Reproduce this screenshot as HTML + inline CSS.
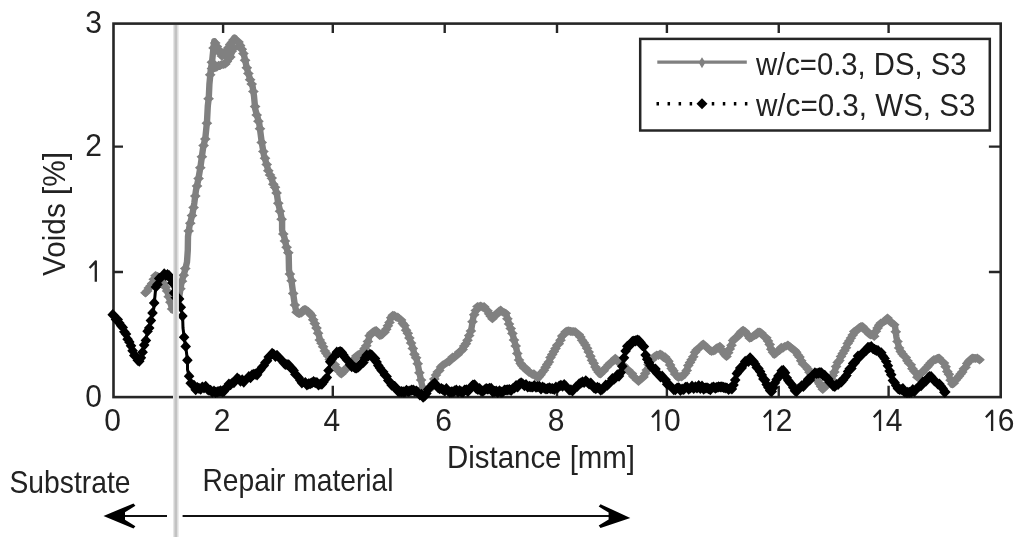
<!DOCTYPE html>
<html><head><meta charset="utf-8"><title>Voids vs distance</title>
<style>html,body{margin:0;padding:0;background:#fff;overflow:hidden}svg{display:block;will-change:transform;filter:blur(0.45px)}text{font-family:"Liberation Sans",sans-serif}</style>
</head><body>
<svg width="1024" height="537" viewBox="0 0 1024 537">
<rect x="0" y="0" width="1024" height="537" fill="#fff"/>
<rect x="113.5" y="23.6" width="887.2" height="373.5" fill="none" stroke="#262626" stroke-width="2.6"/>
<path d="M223.1,397.1V385.8M223.1,23.6V32.900000000000006M332.8,397.1V385.8M332.8,23.6V32.900000000000006M444.7,397.1V385.8M444.7,23.6V32.900000000000006M557.0,397.1V385.8M557.0,23.6V32.900000000000006M666.9,397.1V385.8M666.9,23.6V32.900000000000006M778.75,397.1V385.8M778.75,23.6V32.900000000000006M888.6,397.1V385.8M888.6,23.6V32.900000000000006M113.5,272.0H123.0M1000.7,272.0H988.9000000000001M113.5,146.65H123.0M1000.7,146.65H988.9000000000001" stroke="#262626" stroke-width="2.4" fill="none"/>
<polyline points="145.5,293.3 152.4,283.0 156.3,275.0 164.7,284.6 168.0,293.6 170.3,302.5 172.5,310.3 175.5,306.0 179.2,296.9 181.5,282.4 184.8,271.2 187.0,262.0 187.8,250.0 188.0,236.5 189.6,225.4 192.7,212.7 194.3,203.2 195.9,190.6 198.3,179.5 200.6,166.0 203.0,148.5 205.4,137.5 207.0,121.6 207.8,105.8 208.8,97.7 209.4,84.3 210.8,69.6 212.1,61.5 213.5,47.5 214.3,41.2 217.0,46.5 219.5,52.0 222.0,56.5 226.0,51.0 230.0,44.5 234.5,37.6 240.8,45.5 243.5,53.0 246.3,65.5 248.4,74.0 252.6,86.5 254.0,96.0 255.2,109.0 259.2,123.2 261.5,140.6 263.9,154.9 267.9,169.1 270.3,175.0 273.4,184.2 276.6,192.2 278.2,203.2 280.5,212.7 282.1,220.6 282.1,230.1 284.5,238.0 286.9,249.1 288.7,255.0 289.0,269.9 291.4,280.3 293.2,293.7 294.7,304.2 296.2,311.6 299.2,314.6 305.1,308.6 311.1,314.6 315.5,325.0 318.5,334.0 320.0,339.9 326.0,353.3 333.4,363.7 340.9,374.2 346.8,368.2 355.0,358.0 362.7,352.0 367.5,343.4 369.9,334.9 375.4,330.1 380.8,336.1 386.9,328.9 390.5,319.2 393.5,315.0 401.4,320.4 405.0,326.5 408.6,336.1 412.3,345.8 414.7,355.5 416.8,359.8 419.8,374.7 422.0,385.1 423.5,390.0 427.0,391.0 431.0,387.0 434.5,379.0 437.5,372.5 442.0,366.0 451.0,359.5 459.0,352.5 464.0,347.0 467.0,341.0 471.2,330.0 473.4,316.8 477.9,306.4 482.4,306.5 486.5,309.0 492.5,318.0 500.5,310.5 506.2,313.8 509.2,324.3 513.6,337.7 516.6,349.6 519.6,363.0 527.0,370.2 536.0,376.2 538.9,377.7 544.9,368.7 555.5,349.4 561.0,338.5 566.0,331.5 570.2,331.0 575.0,332.0 580.6,337.0 588.1,350.9 594.1,364.3 600.0,374.7 607.5,365.8 615.4,359.1 625.3,367.2 630.0,372.4 638.4,380.8 644.5,376.0 650.5,360.3 659.0,354.2 667.5,359.1 672.3,368.7 677.2,377.2 683.4,376.0 689.4,364.1 695.3,352.1 702.8,343.9 711.7,352.1 719.2,346.2 726.6,356.6 732.6,341.7 743.0,329.8 750.4,338.7 759.4,331.3 766.8,338.7 771.3,349.2 774.3,355.1 781.7,347.7 788.3,345.0 796.8,352.3 802.3,362.3 809.1,371.3 816.9,380.2 822.5,389.2 831.4,379.1 838.1,362.3 847.0,345.6 854.7,331.3 861.4,326.1 868.1,332.8 874.1,335.8 878.5,325.3 887.5,318.6 894.9,325.3 896.4,337.2 899.4,349.2 906.8,359.6 912.8,368.5 917.8,377.0 926.1,367.8 932.6,361.3 938.4,357.4 944.3,363.9 948.2,373.0 952.1,384.7 958.6,376.9 963.9,369.1 969.1,361.3 974.3,357.4 979.5,360.0" fill="none" stroke="#808080" stroke-width="6.4" stroke-linejoin="round" stroke-linecap="round"/>
<polyline points="212.0,68.0 219.0,66.0 226.0,63.5 230.0,57.0 233.5,48.0" fill="none" stroke="#808080" stroke-width="6.4" stroke-linejoin="round" stroke-linecap="round"/>
<path d="M145.5,288.2l5.4,4.6l-5.4,4.6l-5.4,-4.6zM147.2,286.3l5.4,4.6l-5.4,4.6l-5.4,-4.6zM148.8,283.5l5.4,4.6l-5.4,4.6l-5.4,-4.6zM150.5,281.5l5.4,4.6l-5.4,4.6l-5.4,-4.6zM152.1,279.0l5.4,4.6l-5.4,4.6l-5.4,-4.6zM153.8,274.7l5.4,4.6l-5.4,4.6l-5.4,-4.6zM155.5,271.1l5.4,4.6l-5.4,4.6l-5.4,-4.6zM157.1,272.0l5.4,4.6l-5.4,4.6l-5.4,-4.6zM158.8,272.8l5.4,4.6l-5.4,4.6l-5.4,-4.6zM160.4,274.6l5.4,4.6l-5.4,4.6l-5.4,-4.6zM162.1,278.0l5.4,4.6l-5.4,4.6l-5.4,-4.6zM163.8,278.9l5.4,4.6l-5.4,4.6l-5.4,-4.6zM165.4,282.6l5.4,4.6l-5.4,4.6l-5.4,-4.6zM167.1,286.4l5.4,4.6l-5.4,4.6l-5.4,-4.6zM168.7,292.1l5.4,4.6l-5.4,4.6l-5.4,-4.6zM170.4,297.6l5.4,4.6l-5.4,4.6l-5.4,-4.6zM172.1,304.4l5.4,4.6l-5.4,4.6l-5.4,-4.6zM173.7,304.7l5.4,4.6l-5.4,4.6l-5.4,-4.6zM175.4,301.6l5.4,4.6l-5.4,4.6l-5.4,-4.6zM177.0,298.1l5.4,4.6l-5.4,4.6l-5.4,-4.6zM178.7,293.9l5.4,4.6l-5.4,4.6l-5.4,-4.6zM180.4,284.1l5.4,4.6l-5.4,4.6l-5.4,-4.6zM182.0,276.6l5.4,4.6l-5.4,4.6l-5.4,-4.6zM183.7,270.6l5.4,4.6l-5.4,4.6l-5.4,-4.6zM185.3,263.9l5.4,4.6l-5.4,4.6l-5.4,-4.6zM188.7,226.4l5.4,4.6l-5.4,4.6l-5.4,-4.6zM190.3,218.6l5.4,4.6l-5.4,4.6l-5.4,-4.6zM192.0,211.0l5.4,4.6l-5.4,4.6l-5.4,-4.6zM193.6,203.0l5.4,4.6l-5.4,4.6l-5.4,-4.6zM195.3,191.5l5.4,4.6l-5.4,4.6l-5.4,-4.6zM197.0,181.5l5.4,4.6l-5.4,4.6l-5.4,-4.6zM198.6,173.9l5.4,4.6l-5.4,4.6l-5.4,-4.6zM200.3,163.1l5.4,4.6l-5.4,4.6l-5.4,-4.6zM201.9,152.2l5.4,4.6l-5.4,4.6l-5.4,-4.6zM203.6,141.0l5.4,4.6l-5.4,4.6l-5.4,-4.6zM205.3,134.4l5.4,4.6l-5.4,4.6l-5.4,-4.6zM206.9,118.6l5.4,4.6l-5.4,4.6l-5.4,-4.6zM208.6,94.1l5.4,4.6l-5.4,4.6l-5.4,-4.6zM210.2,70.2l5.4,4.6l-5.4,4.6l-5.4,-4.6zM211.9,57.6l5.4,4.6l-5.4,4.6l-5.4,-4.6zM213.6,43.4l5.4,4.6l-5.4,4.6l-5.4,-4.6zM215.2,38.3l5.4,4.6l-5.4,4.6l-5.4,-4.6zM216.9,41.9l5.4,4.6l-5.4,4.6l-5.4,-4.6zM218.5,44.9l5.4,4.6l-5.4,4.6l-5.4,-4.6zM220.2,48.7l5.4,4.6l-5.4,4.6l-5.4,-4.6zM221.9,51.4l5.4,4.6l-5.4,4.6l-5.4,-4.6zM223.5,49.5l5.4,4.6l-5.4,4.6l-5.4,-4.6zM225.2,47.7l5.4,4.6l-5.4,4.6l-5.4,-4.6zM226.8,45.2l5.4,4.6l-5.4,4.6l-5.4,-4.6zM228.5,43.1l5.4,4.6l-5.4,4.6l-5.4,-4.6zM230.2,40.0l5.4,4.6l-5.4,4.6l-5.4,-4.6zM231.8,38.0l5.4,4.6l-5.4,4.6l-5.4,-4.6zM233.5,35.3l5.4,4.6l-5.4,4.6l-5.4,-4.6zM235.1,34.8l5.4,4.6l-5.4,4.6l-5.4,-4.6zM236.8,36.2l5.4,4.6l-5.4,4.6l-5.4,-4.6zM238.5,37.3l5.4,4.6l-5.4,4.6l-5.4,-4.6zM240.1,40.8l5.4,4.6l-5.4,4.6l-5.4,-4.6zM241.8,44.6l5.4,4.6l-5.4,4.6l-5.4,-4.6zM243.4,49.0l5.4,4.6l-5.4,4.6l-5.4,-4.6zM245.1,55.7l5.4,4.6l-5.4,4.6l-5.4,-4.6zM246.8,63.2l5.4,4.6l-5.4,4.6l-5.4,-4.6zM248.4,68.9l5.4,4.6l-5.4,4.6l-5.4,-4.6zM250.1,75.1l5.4,4.6l-5.4,4.6l-5.4,-4.6zM251.7,79.5l5.4,4.6l-5.4,4.6l-5.4,-4.6zM253.4,86.9l5.4,4.6l-5.4,4.6l-5.4,-4.6zM255.1,102.0l5.4,4.6l-5.4,4.6l-5.4,-4.6zM256.7,110.5l5.4,4.6l-5.4,4.6l-5.4,-4.6zM258.4,116.7l5.4,4.6l-5.4,4.6l-5.4,-4.6zM260.0,124.1l5.4,4.6l-5.4,4.6l-5.4,-4.6zM261.7,137.8l5.4,4.6l-5.4,4.6l-5.4,-4.6zM263.4,146.9l5.4,4.6l-5.4,4.6l-5.4,-4.6zM265.0,153.6l5.4,4.6l-5.4,4.6l-5.4,-4.6zM266.7,159.8l5.4,4.6l-5.4,4.6l-5.4,-4.6zM268.3,166.1l5.4,4.6l-5.4,4.6l-5.4,-4.6zM270.0,170.4l5.4,4.6l-5.4,4.6l-5.4,-4.6zM271.7,173.5l5.4,4.6l-5.4,4.6l-5.4,-4.6zM273.3,179.6l5.4,4.6l-5.4,4.6l-5.4,-4.6zM275.0,182.6l5.4,4.6l-5.4,4.6l-5.4,-4.6zM276.6,188.3l5.4,4.6l-5.4,4.6l-5.4,-4.6zM278.3,198.7l5.4,4.6l-5.4,4.6l-5.4,-4.6zM280.0,206.6l5.4,4.6l-5.4,4.6l-5.4,-4.6zM281.6,214.6l5.4,4.6l-5.4,4.6l-5.4,-4.6zM283.3,229.4l5.4,4.6l-5.4,4.6l-5.4,-4.6zM284.9,236.4l5.4,4.6l-5.4,4.6l-5.4,-4.6zM286.6,242.7l5.4,4.6l-5.4,4.6l-5.4,-4.6zM288.3,248.1l5.4,4.6l-5.4,4.6l-5.4,-4.6zM289.9,269.5l5.4,4.6l-5.4,4.6l-5.4,-4.6zM291.6,276.1l5.4,4.6l-5.4,4.6l-5.4,-4.6zM293.2,288.8l5.4,4.6l-5.4,4.6l-5.4,-4.6zM294.9,300.4l5.4,4.6l-5.4,4.6l-5.4,-4.6zM296.6,307.6l5.4,4.6l-5.4,4.6l-5.4,-4.6zM298.2,308.3l5.4,4.6l-5.4,4.6l-5.4,-4.6zM299.9,308.4l5.4,4.6l-5.4,4.6l-5.4,-4.6zM301.5,308.4l5.4,4.6l-5.4,4.6l-5.4,-4.6zM303.2,305.6l5.4,4.6l-5.4,4.6l-5.4,-4.6zM304.9,305.2l5.4,4.6l-5.4,4.6l-5.4,-4.6zM306.5,306.2l5.4,4.6l-5.4,4.6l-5.4,-4.6zM308.2,306.8l5.4,4.6l-5.4,4.6l-5.4,-4.6zM309.8,308.7l5.4,4.6l-5.4,4.6l-5.4,-4.6zM311.5,311.0l5.4,4.6l-5.4,4.6l-5.4,-4.6zM313.2,315.2l5.4,4.6l-5.4,4.6l-5.4,-4.6zM314.8,319.0l5.4,4.6l-5.4,4.6l-5.4,-4.6zM316.5,323.5l5.4,4.6l-5.4,4.6l-5.4,-4.6zM318.1,328.6l5.4,4.6l-5.4,4.6l-5.4,-4.6zM319.8,335.4l5.4,4.6l-5.4,4.6l-5.4,-4.6zM321.5,338.6l5.4,4.6l-5.4,4.6l-5.4,-4.6zM323.1,342.1l5.4,4.6l-5.4,4.6l-5.4,-4.6zM324.8,346.4l5.4,4.6l-5.4,4.6l-5.4,-4.6zM326.4,348.8l5.4,4.6l-5.4,4.6l-5.4,-4.6zM328.1,351.3l5.4,4.6l-5.4,4.6l-5.4,-4.6zM329.8,354.9l5.4,4.6l-5.4,4.6l-5.4,-4.6zM331.4,356.4l5.4,4.6l-5.4,4.6l-5.4,-4.6zM333.1,358.7l5.4,4.6l-5.4,4.6l-5.4,-4.6zM334.7,360.0l5.4,4.6l-5.4,4.6l-5.4,-4.6zM336.4,363.1l5.4,4.6l-5.4,4.6l-5.4,-4.6zM338.1,365.8l5.4,4.6l-5.4,4.6l-5.4,-4.6zM339.7,367.0l5.4,4.6l-5.4,4.6l-5.4,-4.6zM341.4,369.3l5.4,4.6l-5.4,4.6l-5.4,-4.6zM343.0,367.7l5.4,4.6l-5.4,4.6l-5.4,-4.6zM344.7,364.9l5.4,4.6l-5.4,4.6l-5.4,-4.6zM346.4,364.3l5.4,4.6l-5.4,4.6l-5.4,-4.6zM348.0,362.0l5.4,4.6l-5.4,4.6l-5.4,-4.6zM349.7,360.4l5.4,4.6l-5.4,4.6l-5.4,-4.6zM351.3,357.7l5.4,4.6l-5.4,4.6l-5.4,-4.6zM353.0,356.3l5.4,4.6l-5.4,4.6l-5.4,-4.6zM354.7,354.3l5.4,4.6l-5.4,4.6l-5.4,-4.6zM356.3,351.4l5.4,4.6l-5.4,4.6l-5.4,-4.6zM358.0,350.2l5.4,4.6l-5.4,4.6l-5.4,-4.6zM359.6,350.1l5.4,4.6l-5.4,4.6l-5.4,-4.6zM361.3,349.4l5.4,4.6l-5.4,4.6l-5.4,-4.6zM363.0,346.4l5.4,4.6l-5.4,4.6l-5.4,-4.6zM364.6,343.9l5.4,4.6l-5.4,4.6l-5.4,-4.6zM366.3,341.2l5.4,4.6l-5.4,4.6l-5.4,-4.6zM367.9,336.9l5.4,4.6l-5.4,4.6l-5.4,-4.6zM369.6,331.1l5.4,4.6l-5.4,4.6l-5.4,-4.6zM371.3,328.7l5.4,4.6l-5.4,4.6l-5.4,-4.6zM372.9,327.4l5.4,4.6l-5.4,4.6l-5.4,-4.6zM374.6,326.4l5.4,4.6l-5.4,4.6l-5.4,-4.6zM376.2,326.0l5.4,4.6l-5.4,4.6l-5.4,-4.6zM377.9,328.0l5.4,4.6l-5.4,4.6l-5.4,-4.6zM379.6,330.7l5.4,4.6l-5.4,4.6l-5.4,-4.6zM381.2,330.1l5.4,4.6l-5.4,4.6l-5.4,-4.6zM382.9,329.2l5.4,4.6l-5.4,4.6l-5.4,-4.6zM384.5,327.6l5.4,4.6l-5.4,4.6l-5.4,-4.6zM386.2,324.7l5.4,4.6l-5.4,4.6l-5.4,-4.6zM387.9,321.2l5.4,4.6l-5.4,4.6l-5.4,-4.6zM389.5,317.8l5.4,4.6l-5.4,4.6l-5.4,-4.6zM391.2,313.1l5.4,4.6l-5.4,4.6l-5.4,-4.6zM392.8,310.7l5.4,4.6l-5.4,4.6l-5.4,-4.6zM394.5,311.0l5.4,4.6l-5.4,4.6l-5.4,-4.6zM396.2,312.6l5.4,4.6l-5.4,4.6l-5.4,-4.6zM397.8,312.6l5.4,4.6l-5.4,4.6l-5.4,-4.6zM399.5,314.1l5.4,4.6l-5.4,4.6l-5.4,-4.6zM401.1,315.3l5.4,4.6l-5.4,4.6l-5.4,-4.6zM402.8,318.8l5.4,4.6l-5.4,4.6l-5.4,-4.6zM404.5,320.9l5.4,4.6l-5.4,4.6l-5.4,-4.6zM406.1,325.6l5.4,4.6l-5.4,4.6l-5.4,-4.6zM407.8,328.7l5.4,4.6l-5.4,4.6l-5.4,-4.6zM409.4,333.4l5.4,4.6l-5.4,4.6l-5.4,-4.6zM411.1,338.4l5.4,4.6l-5.4,4.6l-5.4,-4.6zM412.8,343.8l5.4,4.6l-5.4,4.6l-5.4,-4.6zM414.4,349.7l5.4,4.6l-5.4,4.6l-5.4,-4.6zM416.1,353.2l5.4,4.6l-5.4,4.6l-5.4,-4.6zM417.7,359.1l5.4,4.6l-5.4,4.6l-5.4,-4.6zM419.4,368.2l5.4,4.6l-5.4,4.6l-5.4,-4.6zM421.1,375.4l5.4,4.6l-5.4,4.6l-5.4,-4.6zM422.7,383.5l5.4,4.6l-5.4,4.6l-5.4,-4.6zM424.4,386.3l5.4,4.6l-5.4,4.6l-5.4,-4.6zM426.0,385.5l5.4,4.6l-5.4,4.6l-5.4,-4.6zM427.7,385.3l5.4,4.6l-5.4,4.6l-5.4,-4.6zM429.4,384.7l5.4,4.6l-5.4,4.6l-5.4,-4.6zM431.0,382.6l5.4,4.6l-5.4,4.6l-5.4,-4.6zM432.7,379.2l5.4,4.6l-5.4,4.6l-5.4,-4.6zM434.3,374.5l5.4,4.6l-5.4,4.6l-5.4,-4.6zM436.0,370.4l5.4,4.6l-5.4,4.6l-5.4,-4.6zM437.7,367.3l5.4,4.6l-5.4,4.6l-5.4,-4.6zM439.3,365.9l5.4,4.6l-5.4,4.6l-5.4,-4.6zM441.0,362.4l5.4,4.6l-5.4,4.6l-5.4,-4.6zM442.6,360.6l5.4,4.6l-5.4,4.6l-5.4,-4.6zM444.3,359.6l5.4,4.6l-5.4,4.6l-5.4,-4.6zM446.0,358.4l5.4,4.6l-5.4,4.6l-5.4,-4.6zM447.6,357.2l5.4,4.6l-5.4,4.6l-5.4,-4.6zM449.3,357.0l5.4,4.6l-5.4,4.6l-5.4,-4.6zM450.9,354.3l5.4,4.6l-5.4,4.6l-5.4,-4.6zM452.6,352.5l5.4,4.6l-5.4,4.6l-5.4,-4.6zM454.3,352.9l5.4,4.6l-5.4,4.6l-5.4,-4.6zM455.9,351.4l5.4,4.6l-5.4,4.6l-5.4,-4.6zM457.6,350.1l5.4,4.6l-5.4,4.6l-5.4,-4.6zM459.2,347.5l5.4,4.6l-5.4,4.6l-5.4,-4.6zM460.9,346.7l5.4,4.6l-5.4,4.6l-5.4,-4.6zM462.6,344.8l5.4,4.6l-5.4,4.6l-5.4,-4.6zM464.2,341.4l5.4,4.6l-5.4,4.6l-5.4,-4.6zM465.9,339.1l5.4,4.6l-5.4,4.6l-5.4,-4.6zM467.5,335.7l5.4,4.6l-5.4,4.6l-5.4,-4.6zM469.2,331.0l5.4,4.6l-5.4,4.6l-5.4,-4.6zM470.9,326.3l5.4,4.6l-5.4,4.6l-5.4,-4.6zM472.5,317.1l5.4,4.6l-5.4,4.6l-5.4,-4.6zM474.2,310.1l5.4,4.6l-5.4,4.6l-5.4,-4.6zM475.8,306.0l5.4,4.6l-5.4,4.6l-5.4,-4.6zM477.5,301.9l5.4,4.6l-5.4,4.6l-5.4,-4.6zM479.2,302.0l5.4,4.6l-5.4,4.6l-5.4,-4.6zM480.8,301.4l5.4,4.6l-5.4,4.6l-5.4,-4.6zM482.5,302.6l5.4,4.6l-5.4,4.6l-5.4,-4.6zM484.1,302.1l5.4,4.6l-5.4,4.6l-5.4,-4.6zM485.8,304.8l5.4,4.6l-5.4,4.6l-5.4,-4.6zM487.5,306.2l5.4,4.6l-5.4,4.6l-5.4,-4.6zM489.1,309.2l5.4,4.6l-5.4,4.6l-5.4,-4.6zM490.8,311.6l5.4,4.6l-5.4,4.6l-5.4,-4.6zM492.4,314.1l5.4,4.6l-5.4,4.6l-5.4,-4.6zM494.1,312.1l5.4,4.6l-5.4,4.6l-5.4,-4.6zM495.8,309.4l5.4,4.6l-5.4,4.6l-5.4,-4.6zM497.4,309.3l5.4,4.6l-5.4,4.6l-5.4,-4.6zM499.1,306.6l5.4,4.6l-5.4,4.6l-5.4,-4.6zM500.7,305.6l5.4,4.6l-5.4,4.6l-5.4,-4.6zM502.4,307.3l5.4,4.6l-5.4,4.6l-5.4,-4.6zM504.1,308.0l5.4,4.6l-5.4,4.6l-5.4,-4.6zM505.7,308.7l5.4,4.6l-5.4,4.6l-5.4,-4.6zM507.4,314.2l5.4,4.6l-5.4,4.6l-5.4,-4.6zM509.0,319.4l5.4,4.6l-5.4,4.6l-5.4,-4.6zM510.7,324.0l5.4,4.6l-5.4,4.6l-5.4,-4.6zM512.4,328.8l5.4,4.6l-5.4,4.6l-5.4,-4.6zM514.0,335.5l5.4,4.6l-5.4,4.6l-5.4,-4.6zM515.7,341.3l5.4,4.6l-5.4,4.6l-5.4,-4.6zM517.3,348.9l5.4,4.6l-5.4,4.6l-5.4,-4.6zM519.0,355.4l5.4,4.6l-5.4,4.6l-5.4,-4.6zM520.7,358.8l5.4,4.6l-5.4,4.6l-5.4,-4.6zM522.3,361.1l5.4,4.6l-5.4,4.6l-5.4,-4.6zM524.0,363.3l5.4,4.6l-5.4,4.6l-5.4,-4.6zM525.6,363.6l5.4,4.6l-5.4,4.6l-5.4,-4.6zM527.3,366.4l5.4,4.6l-5.4,4.6l-5.4,-4.6zM529.0,367.8l5.4,4.6l-5.4,4.6l-5.4,-4.6zM530.6,368.6l5.4,4.6l-5.4,4.6l-5.4,-4.6zM532.3,369.8l5.4,4.6l-5.4,4.6l-5.4,-4.6zM533.9,369.2l5.4,4.6l-5.4,4.6l-5.4,-4.6zM535.6,371.6l5.4,4.6l-5.4,4.6l-5.4,-4.6zM537.3,373.0l5.4,4.6l-5.4,4.6l-5.4,-4.6zM538.9,372.2l5.4,4.6l-5.4,4.6l-5.4,-4.6zM540.6,370.1l5.4,4.6l-5.4,4.6l-5.4,-4.6zM542.2,367.6l5.4,4.6l-5.4,4.6l-5.4,-4.6zM543.9,365.7l5.4,4.6l-5.4,4.6l-5.4,-4.6zM545.6,362.7l5.4,4.6l-5.4,4.6l-5.4,-4.6zM547.2,359.8l5.4,4.6l-5.4,4.6l-5.4,-4.6zM548.9,357.4l5.4,4.6l-5.4,4.6l-5.4,-4.6zM550.5,352.8l5.4,4.6l-5.4,4.6l-5.4,-4.6zM552.2,349.9l5.4,4.6l-5.4,4.6l-5.4,-4.6zM553.9,347.0l5.4,4.6l-5.4,4.6l-5.4,-4.6zM555.5,344.0l5.4,4.6l-5.4,4.6l-5.4,-4.6zM557.2,340.6l5.4,4.6l-5.4,4.6l-5.4,-4.6zM558.8,339.1l5.4,4.6l-5.4,4.6l-5.4,-4.6zM560.5,335.6l5.4,4.6l-5.4,4.6l-5.4,-4.6zM562.2,331.4l5.4,4.6l-5.4,4.6l-5.4,-4.6zM563.8,330.0l5.4,4.6l-5.4,4.6l-5.4,-4.6zM565.5,327.3l5.4,4.6l-5.4,4.6l-5.4,-4.6zM567.1,326.4l5.4,4.6l-5.4,4.6l-5.4,-4.6zM568.8,326.3l5.4,4.6l-5.4,4.6l-5.4,-4.6zM570.5,326.7l5.4,4.6l-5.4,4.6l-5.4,-4.6zM572.1,327.0l5.4,4.6l-5.4,4.6l-5.4,-4.6zM573.8,326.9l5.4,4.6l-5.4,4.6l-5.4,-4.6zM575.4,327.2l5.4,4.6l-5.4,4.6l-5.4,-4.6zM577.1,328.9l5.4,4.6l-5.4,4.6l-5.4,-4.6zM578.8,330.0l5.4,4.6l-5.4,4.6l-5.4,-4.6zM580.4,332.4l5.4,4.6l-5.4,4.6l-5.4,-4.6zM582.1,335.6l5.4,4.6l-5.4,4.6l-5.4,-4.6zM583.7,338.0l5.4,4.6l-5.4,4.6l-5.4,-4.6zM585.4,340.5l5.4,4.6l-5.4,4.6l-5.4,-4.6zM587.1,343.7l5.4,4.6l-5.4,4.6l-5.4,-4.6zM588.7,347.4l5.4,4.6l-5.4,4.6l-5.4,-4.6zM590.4,351.6l5.4,4.6l-5.4,4.6l-5.4,-4.6zM592.0,355.7l5.4,4.6l-5.4,4.6l-5.4,-4.6zM593.7,358.6l5.4,4.6l-5.4,4.6l-5.4,-4.6zM595.4,362.5l5.4,4.6l-5.4,4.6l-5.4,-4.6zM597.0,365.1l5.4,4.6l-5.4,4.6l-5.4,-4.6zM598.7,367.6l5.4,4.6l-5.4,4.6l-5.4,-4.6zM600.3,369.4l5.4,4.6l-5.4,4.6l-5.4,-4.6zM602.0,367.7l5.4,4.6l-5.4,4.6l-5.4,-4.6zM603.7,366.2l5.4,4.6l-5.4,4.6l-5.4,-4.6zM605.3,363.6l5.4,4.6l-5.4,4.6l-5.4,-4.6zM607.0,362.2l5.4,4.6l-5.4,4.6l-5.4,-4.6zM608.6,360.2l5.4,4.6l-5.4,4.6l-5.4,-4.6zM610.3,358.3l5.4,4.6l-5.4,4.6l-5.4,-4.6zM612.0,357.5l5.4,4.6l-5.4,4.6l-5.4,-4.6zM613.6,356.4l5.4,4.6l-5.4,4.6l-5.4,-4.6zM615.3,353.7l5.4,4.6l-5.4,4.6l-5.4,-4.6zM616.9,355.6l5.4,4.6l-5.4,4.6l-5.4,-4.6zM618.6,357.0l5.4,4.6l-5.4,4.6l-5.4,-4.6zM620.3,359.2l5.4,4.6l-5.4,4.6l-5.4,-4.6zM621.9,360.7l5.4,4.6l-5.4,4.6l-5.4,-4.6zM623.6,360.9l5.4,4.6l-5.4,4.6l-5.4,-4.6zM625.2,363.3l5.4,4.6l-5.4,4.6l-5.4,-4.6zM626.9,365.0l5.4,4.6l-5.4,4.6l-5.4,-4.6zM628.6,365.7l5.4,4.6l-5.4,4.6l-5.4,-4.6zM630.2,367.9l5.4,4.6l-5.4,4.6l-5.4,-4.6zM631.9,368.9l5.4,4.6l-5.4,4.6l-5.4,-4.6zM633.5,372.0l5.4,4.6l-5.4,4.6l-5.4,-4.6zM635.2,373.3l5.4,4.6l-5.4,4.6l-5.4,-4.6zM636.9,375.4l5.4,4.6l-5.4,4.6l-5.4,-4.6zM638.5,376.7l5.4,4.6l-5.4,4.6l-5.4,-4.6zM640.2,375.1l5.4,4.6l-5.4,4.6l-5.4,-4.6zM641.8,374.0l5.4,4.6l-5.4,4.6l-5.4,-4.6zM643.5,372.3l5.4,4.6l-5.4,4.6l-5.4,-4.6zM645.2,368.9l5.4,4.6l-5.4,4.6l-5.4,-4.6zM646.8,365.5l5.4,4.6l-5.4,4.6l-5.4,-4.6zM648.5,360.0l5.4,4.6l-5.4,4.6l-5.4,-4.6zM650.1,355.9l5.4,4.6l-5.4,4.6l-5.4,-4.6zM651.8,355.3l5.4,4.6l-5.4,4.6l-5.4,-4.6zM653.5,352.7l5.4,4.6l-5.4,4.6l-5.4,-4.6zM655.1,351.6l5.4,4.6l-5.4,4.6l-5.4,-4.6zM656.8,350.4l5.4,4.6l-5.4,4.6l-5.4,-4.6zM658.4,350.8l5.4,4.6l-5.4,4.6l-5.4,-4.6zM660.1,349.6l5.4,4.6l-5.4,4.6l-5.4,-4.6zM661.8,350.2l5.4,4.6l-5.4,4.6l-5.4,-4.6zM663.4,352.8l5.4,4.6l-5.4,4.6l-5.4,-4.6zM665.1,352.3l5.4,4.6l-5.4,4.6l-5.4,-4.6zM666.7,354.7l5.4,4.6l-5.4,4.6l-5.4,-4.6zM668.4,356.6l5.4,4.6l-5.4,4.6l-5.4,-4.6zM670.1,360.3l5.4,4.6l-5.4,4.6l-5.4,-4.6zM671.7,363.8l5.4,4.6l-5.4,4.6l-5.4,-4.6zM673.4,366.1l5.4,4.6l-5.4,4.6l-5.4,-4.6zM675.0,369.5l5.4,4.6l-5.4,4.6l-5.4,-4.6zM676.7,370.8l5.4,4.6l-5.4,4.6l-5.4,-4.6zM678.4,372.9l5.4,4.6l-5.4,4.6l-5.4,-4.6zM680.0,372.1l5.4,4.6l-5.4,4.6l-5.4,-4.6zM681.7,372.2l5.4,4.6l-5.4,4.6l-5.4,-4.6zM683.3,370.6l5.4,4.6l-5.4,4.6l-5.4,-4.6zM685.0,368.7l5.4,4.6l-5.4,4.6l-5.4,-4.6zM686.7,365.8l5.4,4.6l-5.4,4.6l-5.4,-4.6zM688.3,360.8l5.4,4.6l-5.4,4.6l-5.4,-4.6zM690.0,358.0l5.4,4.6l-5.4,4.6l-5.4,-4.6zM691.6,355.1l5.4,4.6l-5.4,4.6l-5.4,-4.6zM693.3,352.2l5.4,4.6l-5.4,4.6l-5.4,-4.6zM695.0,347.7l5.4,4.6l-5.4,4.6l-5.4,-4.6zM696.6,345.4l5.4,4.6l-5.4,4.6l-5.4,-4.6zM698.3,343.7l5.4,4.6l-5.4,4.6l-5.4,-4.6zM699.9,342.7l5.4,4.6l-5.4,4.6l-5.4,-4.6zM701.6,341.1l5.4,4.6l-5.4,4.6l-5.4,-4.6zM703.3,339.5l5.4,4.6l-5.4,4.6l-5.4,-4.6zM704.9,341.0l5.4,4.6l-5.4,4.6l-5.4,-4.6zM706.6,342.6l5.4,4.6l-5.4,4.6l-5.4,-4.6zM708.2,344.0l5.4,4.6l-5.4,4.6l-5.4,-4.6zM709.9,345.7l5.4,4.6l-5.4,4.6l-5.4,-4.6zM711.6,346.5l5.4,4.6l-5.4,4.6l-5.4,-4.6zM713.2,346.3l5.4,4.6l-5.4,4.6l-5.4,-4.6zM714.9,345.9l5.4,4.6l-5.4,4.6l-5.4,-4.6zM716.5,343.5l5.4,4.6l-5.4,4.6l-5.4,-4.6zM718.2,342.9l5.4,4.6l-5.4,4.6l-5.4,-4.6zM719.9,341.8l5.4,4.6l-5.4,4.6l-5.4,-4.6zM721.5,345.2l5.4,4.6l-5.4,4.6l-5.4,-4.6zM723.2,347.7l5.4,4.6l-5.4,4.6l-5.4,-4.6zM724.8,349.9l5.4,4.6l-5.4,4.6l-5.4,-4.6zM726.5,351.9l5.4,4.6l-5.4,4.6l-5.4,-4.6zM728.2,348.1l5.4,4.6l-5.4,4.6l-5.4,-4.6zM729.8,344.3l5.4,4.6l-5.4,4.6l-5.4,-4.6zM731.5,340.7l5.4,4.6l-5.4,4.6l-5.4,-4.6zM733.1,335.8l5.4,4.6l-5.4,4.6l-5.4,-4.6zM734.8,333.8l5.4,4.6l-5.4,4.6l-5.4,-4.6zM736.5,333.2l5.4,4.6l-5.4,4.6l-5.4,-4.6zM738.1,331.6l5.4,4.6l-5.4,4.6l-5.4,-4.6zM739.8,328.9l5.4,4.6l-5.4,4.6l-5.4,-4.6zM741.4,326.9l5.4,4.6l-5.4,4.6l-5.4,-4.6zM743.1,325.8l5.4,4.6l-5.4,4.6l-5.4,-4.6zM744.8,326.7l5.4,4.6l-5.4,4.6l-5.4,-4.6zM746.4,328.8l5.4,4.6l-5.4,4.6l-5.4,-4.6zM748.1,330.7l5.4,4.6l-5.4,4.6l-5.4,-4.6zM749.7,333.5l5.4,4.6l-5.4,4.6l-5.4,-4.6zM751.4,332.9l5.4,4.6l-5.4,4.6l-5.4,-4.6zM753.1,331.4l5.4,4.6l-5.4,4.6l-5.4,-4.6zM754.7,330.9l5.4,4.6l-5.4,4.6l-5.4,-4.6zM756.4,330.1l5.4,4.6l-5.4,4.6l-5.4,-4.6zM758.0,327.4l5.4,4.6l-5.4,4.6l-5.4,-4.6zM759.7,327.4l5.4,4.6l-5.4,4.6l-5.4,-4.6zM761.4,328.5l5.4,4.6l-5.4,4.6l-5.4,-4.6zM763.0,331.0l5.4,4.6l-5.4,4.6l-5.4,-4.6zM764.7,332.1l5.4,4.6l-5.4,4.6l-5.4,-4.6zM766.3,333.2l5.4,4.6l-5.4,4.6l-5.4,-4.6zM768.0,336.3l5.4,4.6l-5.4,4.6l-5.4,-4.6zM769.7,339.8l5.4,4.6l-5.4,4.6l-5.4,-4.6zM771.3,344.6l5.4,4.6l-5.4,4.6l-5.4,-4.6zM773.0,347.7l5.4,4.6l-5.4,4.6l-5.4,-4.6zM774.6,349.5l5.4,4.6l-5.4,4.6l-5.4,-4.6zM776.3,348.2l5.4,4.6l-5.4,4.6l-5.4,-4.6zM778.0,346.5l5.4,4.6l-5.4,4.6l-5.4,-4.6zM779.6,345.7l5.4,4.6l-5.4,4.6l-5.4,-4.6zM781.3,342.8l5.4,4.6l-5.4,4.6l-5.4,-4.6zM782.9,343.6l5.4,4.6l-5.4,4.6l-5.4,-4.6zM784.6,341.9l5.4,4.6l-5.4,4.6l-5.4,-4.6zM786.3,341.4l5.4,4.6l-5.4,4.6l-5.4,-4.6zM787.9,340.5l5.4,4.6l-5.4,4.6l-5.4,-4.6zM789.6,342.2l5.4,4.6l-5.4,4.6l-5.4,-4.6zM791.2,343.6l5.4,4.6l-5.4,4.6l-5.4,-4.6zM792.9,344.5l5.4,4.6l-5.4,4.6l-5.4,-4.6zM794.6,345.7l5.4,4.6l-5.4,4.6l-5.4,-4.6zM796.2,347.6l5.4,4.6l-5.4,4.6l-5.4,-4.6zM797.9,350.4l5.4,4.6l-5.4,4.6l-5.4,-4.6zM799.5,352.5l5.4,4.6l-5.4,4.6l-5.4,-4.6zM801.2,356.2l5.4,4.6l-5.4,4.6l-5.4,-4.6zM802.9,359.4l5.4,4.6l-5.4,4.6l-5.4,-4.6zM804.5,360.6l5.4,4.6l-5.4,4.6l-5.4,-4.6zM806.2,362.3l5.4,4.6l-5.4,4.6l-5.4,-4.6zM807.8,364.5l5.4,4.6l-5.4,4.6l-5.4,-4.6zM809.5,367.6l5.4,4.6l-5.4,4.6l-5.4,-4.6zM811.2,369.4l5.4,4.6l-5.4,4.6l-5.4,-4.6zM812.8,371.9l5.4,4.6l-5.4,4.6l-5.4,-4.6zM814.5,373.5l5.4,4.6l-5.4,4.6l-5.4,-4.6zM816.1,374.2l5.4,4.6l-5.4,4.6l-5.4,-4.6zM817.8,376.4l5.4,4.6l-5.4,4.6l-5.4,-4.6zM819.5,379.2l5.4,4.6l-5.4,4.6l-5.4,-4.6zM821.1,381.8l5.4,4.6l-5.4,4.6l-5.4,-4.6zM822.8,384.7l5.4,4.6l-5.4,4.6l-5.4,-4.6zM824.4,383.1l5.4,4.6l-5.4,4.6l-5.4,-4.6zM826.1,381.3l5.4,4.6l-5.4,4.6l-5.4,-4.6zM827.8,378.1l5.4,4.6l-5.4,4.6l-5.4,-4.6zM829.4,377.5l5.4,4.6l-5.4,4.6l-5.4,-4.6zM831.1,374.5l5.4,4.6l-5.4,4.6l-5.4,-4.6zM832.7,371.0l5.4,4.6l-5.4,4.6l-5.4,-4.6zM834.4,367.4l5.4,4.6l-5.4,4.6l-5.4,-4.6zM836.1,362.0l5.4,4.6l-5.4,4.6l-5.4,-4.6zM837.7,357.8l5.4,4.6l-5.4,4.6l-5.4,-4.6zM839.4,356.0l5.4,4.6l-5.4,4.6l-5.4,-4.6zM841.0,351.8l5.4,4.6l-5.4,4.6l-5.4,-4.6zM842.7,348.8l5.4,4.6l-5.4,4.6l-5.4,-4.6zM844.4,346.1l5.4,4.6l-5.4,4.6l-5.4,-4.6zM846.0,343.2l5.4,4.6l-5.4,4.6l-5.4,-4.6zM847.7,338.8l5.4,4.6l-5.4,4.6l-5.4,-4.6zM849.3,336.3l5.4,4.6l-5.4,4.6l-5.4,-4.6zM851.0,333.4l5.4,4.6l-5.4,4.6l-5.4,-4.6zM852.7,330.5l5.4,4.6l-5.4,4.6l-5.4,-4.6zM854.3,326.8l5.4,4.6l-5.4,4.6l-5.4,-4.6zM856.0,325.9l5.4,4.6l-5.4,4.6l-5.4,-4.6zM857.6,325.3l5.4,4.6l-5.4,4.6l-5.4,-4.6zM859.3,322.9l5.4,4.6l-5.4,4.6l-5.4,-4.6zM861.0,321.9l5.4,4.6l-5.4,4.6l-5.4,-4.6zM862.6,322.0l5.4,4.6l-5.4,4.6l-5.4,-4.6zM864.3,323.9l5.4,4.6l-5.4,4.6l-5.4,-4.6zM865.9,326.4l5.4,4.6l-5.4,4.6l-5.4,-4.6zM867.6,326.9l5.4,4.6l-5.4,4.6l-5.4,-4.6zM869.3,329.6l5.4,4.6l-5.4,4.6l-5.4,-4.6zM870.9,330.4l5.4,4.6l-5.4,4.6l-5.4,-4.6zM872.6,329.6l5.4,4.6l-5.4,4.6l-5.4,-4.6zM874.2,331.7l5.4,4.6l-5.4,4.6l-5.4,-4.6zM875.9,326.7l5.4,4.6l-5.4,4.6l-5.4,-4.6zM877.6,323.5l5.4,4.6l-5.4,4.6l-5.4,-4.6zM879.2,320.7l5.4,4.6l-5.4,4.6l-5.4,-4.6zM880.9,318.5l5.4,4.6l-5.4,4.6l-5.4,-4.6zM882.5,318.0l5.4,4.6l-5.4,4.6l-5.4,-4.6zM884.2,316.8l5.4,4.6l-5.4,4.6l-5.4,-4.6zM885.9,315.8l5.4,4.6l-5.4,4.6l-5.4,-4.6zM887.5,313.5l5.4,4.6l-5.4,4.6l-5.4,-4.6zM889.2,316.0l5.4,4.6l-5.4,4.6l-5.4,-4.6zM890.8,317.9l5.4,4.6l-5.4,4.6l-5.4,-4.6zM892.5,318.9l5.4,4.6l-5.4,4.6l-5.4,-4.6zM894.2,320.1l5.4,4.6l-5.4,4.6l-5.4,-4.6zM895.8,327.2l5.4,4.6l-5.4,4.6l-5.4,-4.6zM897.5,336.9l5.4,4.6l-5.4,4.6l-5.4,-4.6zM899.1,343.3l5.4,4.6l-5.4,4.6l-5.4,-4.6zM900.8,347.0l5.4,4.6l-5.4,4.6l-5.4,-4.6zM902.5,349.3l5.4,4.6l-5.4,4.6l-5.4,-4.6zM904.1,351.4l5.4,4.6l-5.4,4.6l-5.4,-4.6zM905.8,352.9l5.4,4.6l-5.4,4.6l-5.4,-4.6zM907.4,356.2l5.4,4.6l-5.4,4.6l-5.4,-4.6zM909.1,358.7l5.4,4.6l-5.4,4.6l-5.4,-4.6zM910.8,360.2l5.4,4.6l-5.4,4.6l-5.4,-4.6zM912.4,364.1l5.4,4.6l-5.4,4.6l-5.4,-4.6zM914.1,366.4l5.4,4.6l-5.4,4.6l-5.4,-4.6zM915.7,368.1l5.4,4.6l-5.4,4.6l-5.4,-4.6zM917.4,372.6l5.4,4.6l-5.4,4.6l-5.4,-4.6zM919.1,370.3l5.4,4.6l-5.4,4.6l-5.4,-4.6zM920.7,368.8l5.4,4.6l-5.4,4.6l-5.4,-4.6zM922.4,367.8l5.4,4.6l-5.4,4.6l-5.4,-4.6zM924.0,365.7l5.4,4.6l-5.4,4.6l-5.4,-4.6zM925.7,363.8l5.4,4.6l-5.4,4.6l-5.4,-4.6zM927.4,362.2l5.4,4.6l-5.4,4.6l-5.4,-4.6zM929.0,360.2l5.4,4.6l-5.4,4.6l-5.4,-4.6zM930.7,358.2l5.4,4.6l-5.4,4.6l-5.4,-4.6zM932.3,356.3l5.4,4.6l-5.4,4.6l-5.4,-4.6zM934.0,354.9l5.4,4.6l-5.4,4.6l-5.4,-4.6zM935.7,355.1l5.4,4.6l-5.4,4.6l-5.4,-4.6zM937.3,354.0l5.4,4.6l-5.4,4.6l-5.4,-4.6zM939.0,353.5l5.4,4.6l-5.4,4.6l-5.4,-4.6zM940.6,355.7l5.4,4.6l-5.4,4.6l-5.4,-4.6zM942.3,356.8l5.4,4.6l-5.4,4.6l-5.4,-4.6zM944.0,358.5l5.4,4.6l-5.4,4.6l-5.4,-4.6zM945.6,362.1l5.4,4.6l-5.4,4.6l-5.4,-4.6zM947.3,367.0l5.4,4.6l-5.4,4.6l-5.4,-4.6zM948.9,369.7l5.4,4.6l-5.4,4.6l-5.4,-4.6zM950.6,375.6l5.4,4.6l-5.4,4.6l-5.4,-4.6zM952.3,379.4l5.4,4.6l-5.4,4.6l-5.4,-4.6zM953.9,378.5l5.4,4.6l-5.4,4.6l-5.4,-4.6zM955.6,375.6l5.4,4.6l-5.4,4.6l-5.4,-4.6zM957.2,373.6l5.4,4.6l-5.4,4.6l-5.4,-4.6zM958.9,371.7l5.4,4.6l-5.4,4.6l-5.4,-4.6zM960.6,369.5l5.4,4.6l-5.4,4.6l-5.4,-4.6zM962.2,367.5l5.4,4.6l-5.4,4.6l-5.4,-4.6zM963.9,364.2l5.4,4.6l-5.4,4.6l-5.4,-4.6zM965.5,362.7l5.4,4.6l-5.4,4.6l-5.4,-4.6zM967.2,358.8l5.4,4.6l-5.4,4.6l-5.4,-4.6zM968.9,356.6l5.4,4.6l-5.4,4.6l-5.4,-4.6zM970.5,354.8l5.4,4.6l-5.4,4.6l-5.4,-4.6zM972.2,353.6l5.4,4.6l-5.4,4.6l-5.4,-4.6zM973.8,353.7l5.4,4.6l-5.4,4.6l-5.4,-4.6zM975.5,353.9l5.4,4.6l-5.4,4.6l-5.4,-4.6zM977.2,353.6l5.4,4.6l-5.4,4.6l-5.4,-4.6zM978.8,354.4l5.4,4.6l-5.4,4.6l-5.4,-4.6zM979.5,355.2l5.4,4.6l-5.4,4.6l-5.4,-4.6zM212.0,63.9l5.4,4.6l-5.4,4.6l-5.4,-4.6zM213.7,63.6l5.4,4.6l-5.4,4.6l-5.4,-4.6zM215.3,62.9l5.4,4.6l-5.4,4.6l-5.4,-4.6zM217.0,62.2l5.4,4.6l-5.4,4.6l-5.4,-4.6zM218.6,60.8l5.4,4.6l-5.4,4.6l-5.4,-4.6zM220.3,60.7l5.4,4.6l-5.4,4.6l-5.4,-4.6zM222.0,59.7l5.4,4.6l-5.4,4.6l-5.4,-4.6zM223.6,59.8l5.4,4.6l-5.4,4.6l-5.4,-4.6zM225.3,59.3l5.4,4.6l-5.4,4.6l-5.4,-4.6zM226.9,56.8l5.4,4.6l-5.4,4.6l-5.4,-4.6zM228.6,54.2l5.4,4.6l-5.4,4.6l-5.4,-4.6zM230.3,52.3l5.4,4.6l-5.4,4.6l-5.4,-4.6zM231.9,46.5l5.4,4.6l-5.4,4.6l-5.4,-4.6zM233.5,44.0l5.4,4.6l-5.4,4.6l-5.4,-4.6z" fill="#808080"/>
<polyline points="112.7,315.3 119.0,322.3 124.5,332.1 128.7,341.9 132.9,351.6 138.5,362.8 142.7,351.6 146.9,334.9 151.0,320.9 153.8,308.4 155.7,288.0 159.1,279.5 163.6,274.0 169.1,277.0 172.5,282.4 173.6,291.3 175.5,298.0 179.2,299.1 180.3,305.9 182.6,315.9 183.0,328.0 184.5,339.9 186.0,348.8 187.5,360.8 187.5,369.7 190.4,381.6 196.4,389.0 205.3,387.6 214.3,392.0 223.2,390.5 236.6,378.6 244.1,382.4 250.0,377.1 258.9,372.7 264.9,362.2 273.1,352.6 282.8,362.2 293.2,369.7 303.6,384.6 312.6,381.6 321.5,386.1 327.5,377.1 330.4,362.2 339.4,350.3 348.3,362.2 357.3,369.7 369.2,353.3 378.1,363.7 384.1,374.2 393.0,386.1 399.0,390.5 410.0,391.5 418.0,392.0 423.5,396.0 428.0,390.0 434.5,384.0 441.0,388.5 450.0,391.0 460.0,391.0 468.0,390.0 474.0,385.5 480.0,390.0 488.0,389.0 495.0,391.0 505.0,391.0 512.0,390.0 521.0,383.0 530.0,386.5 540.0,388.0 550.0,388.5 556.0,388.5 564.0,384.5 572.0,391.0 579.0,384.0 586.0,380.0 594.0,386.5 602.0,391.0 610.6,380.8 619.1,374.8 622.7,366.3 623.9,356.6 627.5,345.7 634.8,340.9 637.8,340.5 643.3,345.7 645.7,355.4 649.3,365.1 657.8,372.4 665.1,380.8 671.1,388.1 679.6,389.0 689.3,388.5 695.3,386.5 707.2,388.5 719.2,388.0 732.6,389.0 737.0,374.7 744.5,362.8 751.2,358.3 759.4,370.2 766.8,383.6 771.3,392.6 777.3,379.2 782.5,370.2 788.9,380.2 795.6,392.5 804.6,383.6 813.5,375.0 820.2,372.5 828.0,380.0 833.6,388.0 842.7,380.0 850.0,369.0 857.2,358.5 864.0,351.0 871.1,346.5 881.5,352.3 887.5,365.8 891.9,377.7 897.9,388.1 908.3,392.6 917.3,389.6 924.7,380.6 930.5,376.0 937.8,383.4 945.3,392.6" fill="none" stroke="#000" stroke-width="3" stroke-linejoin="round" stroke-linecap="round"/>
<path d="M112.7,309.1l5.3,5.6l-5.3,5.6l-5.3,-5.6zM114.4,310.4l5.3,5.6l-5.3,5.6l-5.3,-5.6zM116.0,313.9l5.3,5.6l-5.3,5.6l-5.3,-5.6zM117.7,313.9l5.3,5.6l-5.3,5.6l-5.3,-5.6zM119.3,317.4l5.3,5.6l-5.3,5.6l-5.3,-5.6zM121.0,319.8l5.3,5.6l-5.3,5.6l-5.3,-5.6zM122.7,321.8l5.3,5.6l-5.3,5.6l-5.3,-5.6zM124.3,326.2l5.3,5.6l-5.3,5.6l-5.3,-5.6zM126.0,328.5l5.3,5.6l-5.3,5.6l-5.3,-5.6zM127.6,333.6l5.3,5.6l-5.3,5.6l-5.3,-5.6zM129.3,336.3l5.3,5.6l-5.3,5.6l-5.3,-5.6zM131.0,340.2l5.3,5.6l-5.3,5.6l-5.3,-5.6zM132.6,345.1l5.3,5.6l-5.3,5.6l-5.3,-5.6zM134.3,349.8l5.3,5.6l-5.3,5.6l-5.3,-5.6zM135.9,350.9l5.3,5.6l-5.3,5.6l-5.3,-5.6zM137.6,354.5l5.3,5.6l-5.3,5.6l-5.3,-5.6zM139.3,355.6l5.3,5.6l-5.3,5.6l-5.3,-5.6zM140.9,352.2l5.3,5.6l-5.3,5.6l-5.3,-5.6zM142.6,346.6l5.3,5.6l-5.3,5.6l-5.3,-5.6zM144.2,339.5l5.3,5.6l-5.3,5.6l-5.3,-5.6zM145.9,334.8l5.3,5.6l-5.3,5.6l-5.3,-5.6zM147.6,325.6l5.3,5.6l-5.3,5.6l-5.3,-5.6zM149.2,322.5l5.3,5.6l-5.3,5.6l-5.3,-5.6zM150.9,315.0l5.3,5.6l-5.3,5.6l-5.3,-5.6zM152.5,307.3l5.3,5.6l-5.3,5.6l-5.3,-5.6zM154.2,297.3l5.3,5.6l-5.3,5.6l-5.3,-5.6zM155.9,281.4l5.3,5.6l-5.3,5.6l-5.3,-5.6zM157.5,278.9l5.3,5.6l-5.3,5.6l-5.3,-5.6zM159.2,272.8l5.3,5.6l-5.3,5.6l-5.3,-5.6zM160.8,272.0l5.3,5.6l-5.3,5.6l-5.3,-5.6zM162.5,270.2l5.3,5.6l-5.3,5.6l-5.3,-5.6zM164.2,268.3l5.3,5.6l-5.3,5.6l-5.3,-5.6zM165.8,269.8l5.3,5.6l-5.3,5.6l-5.3,-5.6zM167.5,269.1l5.3,5.6l-5.3,5.6l-5.3,-5.6zM169.1,270.1l5.3,5.6l-5.3,5.6l-5.3,-5.6zM170.8,273.2l5.3,5.6l-5.3,5.6l-5.3,-5.6zM172.5,277.3l5.3,5.6l-5.3,5.6l-5.3,-5.6zM174.1,287.3l5.3,5.6l-5.3,5.6l-5.3,-5.6zM175.8,291.9l5.3,5.6l-5.3,5.6l-5.3,-5.6zM177.4,293.3l5.3,5.6l-5.3,5.6l-5.3,-5.6zM179.1,293.3l5.3,5.6l-5.3,5.6l-5.3,-5.6zM180.8,301.7l5.3,5.6l-5.3,5.6l-5.3,-5.6zM182.4,310.5l5.3,5.6l-5.3,5.6l-5.3,-5.6zM184.1,331.6l5.3,5.6l-5.3,5.6l-5.3,-5.6zM185.7,340.8l5.3,5.6l-5.3,5.6l-5.3,-5.6zM187.4,354.6l5.3,5.6l-5.3,5.6l-5.3,-5.6zM189.1,370.6l5.3,5.6l-5.3,5.6l-5.3,-5.6zM190.7,377.6l5.3,5.6l-5.3,5.6l-5.3,-5.6zM192.4,379.2l5.3,5.6l-5.3,5.6l-5.3,-5.6zM194.0,379.8l5.3,5.6l-5.3,5.6l-5.3,-5.6zM195.7,384.1l5.3,5.6l-5.3,5.6l-5.3,-5.6zM197.4,382.0l5.3,5.6l-5.3,5.6l-5.3,-5.6zM199.0,382.7l5.3,5.6l-5.3,5.6l-5.3,-5.6zM200.7,383.5l5.3,5.6l-5.3,5.6l-5.3,-5.6zM202.3,381.4l5.3,5.6l-5.3,5.6l-5.3,-5.6zM204.0,382.2l5.3,5.6l-5.3,5.6l-5.3,-5.6zM205.7,380.7l5.3,5.6l-5.3,5.6l-5.3,-5.6zM207.3,383.5l5.3,5.6l-5.3,5.6l-5.3,-5.6zM209.0,384.6l5.3,5.6l-5.3,5.6l-5.3,-5.6zM210.6,384.8l5.3,5.6l-5.3,5.6l-5.3,-5.6zM212.3,386.6l5.3,5.6l-5.3,5.6l-5.3,-5.6zM214.0,385.6l5.3,5.6l-5.3,5.6l-5.3,-5.6zM215.6,386.8l5.3,5.6l-5.3,5.6l-5.3,-5.6zM217.3,386.2l5.3,5.6l-5.3,5.6l-5.3,-5.6zM218.9,385.9l5.3,5.6l-5.3,5.6l-5.3,-5.6zM220.6,385.2l5.3,5.6l-5.3,5.6l-5.3,-5.6zM222.3,386.1l5.3,5.6l-5.3,5.6l-5.3,-5.6zM223.9,385.7l5.3,5.6l-5.3,5.6l-5.3,-5.6zM225.6,382.7l5.3,5.6l-5.3,5.6l-5.3,-5.6zM227.2,381.8l5.3,5.6l-5.3,5.6l-5.3,-5.6zM228.9,378.4l5.3,5.6l-5.3,5.6l-5.3,-5.6zM230.6,379.0l5.3,5.6l-5.3,5.6l-5.3,-5.6zM232.2,377.4l5.3,5.6l-5.3,5.6l-5.3,-5.6zM233.9,377.0l5.3,5.6l-5.3,5.6l-5.3,-5.6zM235.5,375.0l5.3,5.6l-5.3,5.6l-5.3,-5.6zM237.2,372.6l5.3,5.6l-5.3,5.6l-5.3,-5.6zM238.9,373.8l5.3,5.6l-5.3,5.6l-5.3,-5.6zM240.5,375.5l5.3,5.6l-5.3,5.6l-5.3,-5.6zM242.2,374.3l5.3,5.6l-5.3,5.6l-5.3,-5.6zM243.8,376.5l5.3,5.6l-5.3,5.6l-5.3,-5.6zM245.5,374.5l5.3,5.6l-5.3,5.6l-5.3,-5.6zM247.2,372.8l5.3,5.6l-5.3,5.6l-5.3,-5.6zM248.8,371.1l5.3,5.6l-5.3,5.6l-5.3,-5.6zM250.5,372.1l5.3,5.6l-5.3,5.6l-5.3,-5.6zM252.1,369.3l5.3,5.6l-5.3,5.6l-5.3,-5.6zM253.8,368.8l5.3,5.6l-5.3,5.6l-5.3,-5.6zM255.5,368.5l5.3,5.6l-5.3,5.6l-5.3,-5.6zM257.1,369.2l5.3,5.6l-5.3,5.6l-5.3,-5.6zM258.8,365.8l5.3,5.6l-5.3,5.6l-5.3,-5.6zM260.4,364.2l5.3,5.6l-5.3,5.6l-5.3,-5.6zM262.1,361.7l5.3,5.6l-5.3,5.6l-5.3,-5.6zM263.8,359.8l5.3,5.6l-5.3,5.6l-5.3,-5.6zM265.4,357.0l5.3,5.6l-5.3,5.6l-5.3,-5.6zM267.1,355.2l5.3,5.6l-5.3,5.6l-5.3,-5.6zM268.7,351.4l5.3,5.6l-5.3,5.6l-5.3,-5.6zM270.4,349.9l5.3,5.6l-5.3,5.6l-5.3,-5.6zM272.1,347.8l5.3,5.6l-5.3,5.6l-5.3,-5.6zM273.7,348.8l5.3,5.6l-5.3,5.6l-5.3,-5.6zM275.4,350.7l5.3,5.6l-5.3,5.6l-5.3,-5.6zM277.0,349.8l5.3,5.6l-5.3,5.6l-5.3,-5.6zM278.7,351.5l5.3,5.6l-5.3,5.6l-5.3,-5.6zM280.4,353.3l5.3,5.6l-5.3,5.6l-5.3,-5.6zM282.0,355.0l5.3,5.6l-5.3,5.6l-5.3,-5.6zM283.7,357.2l5.3,5.6l-5.3,5.6l-5.3,-5.6zM285.3,358.7l5.3,5.6l-5.3,5.6l-5.3,-5.6zM287.0,358.9l5.3,5.6l-5.3,5.6l-5.3,-5.6zM288.7,359.2l5.3,5.6l-5.3,5.6l-5.3,-5.6zM290.3,361.8l5.3,5.6l-5.3,5.6l-5.3,-5.6zM292.0,362.8l5.3,5.6l-5.3,5.6l-5.3,-5.6zM293.6,364.9l5.3,5.6l-5.3,5.6l-5.3,-5.6zM295.3,368.6l5.3,5.6l-5.3,5.6l-5.3,-5.6zM297.0,370.1l5.3,5.6l-5.3,5.6l-5.3,-5.6zM298.6,371.9l5.3,5.6l-5.3,5.6l-5.3,-5.6zM300.3,374.6l5.3,5.6l-5.3,5.6l-5.3,-5.6zM301.9,377.2l5.3,5.6l-5.3,5.6l-5.3,-5.6zM305.3,377.0l5.3,5.6l-5.3,5.6l-5.3,-5.6zM306.9,379.2l5.3,5.6l-5.3,5.6l-5.3,-5.6zM308.6,378.2l5.3,5.6l-5.3,5.6l-5.3,-5.6zM310.2,378.0l5.3,5.6l-5.3,5.6l-5.3,-5.6zM311.9,377.2l5.3,5.6l-5.3,5.6l-5.3,-5.6zM313.6,376.1l5.3,5.6l-5.3,5.6l-5.3,-5.6zM315.2,377.0l5.3,5.6l-5.3,5.6l-5.3,-5.6zM316.9,376.9l5.3,5.6l-5.3,5.6l-5.3,-5.6zM318.5,379.4l5.3,5.6l-5.3,5.6l-5.3,-5.6zM320.2,378.4l5.3,5.6l-5.3,5.6l-5.3,-5.6zM321.9,378.6l5.3,5.6l-5.3,5.6l-5.3,-5.6zM323.5,376.5l5.3,5.6l-5.3,5.6l-5.3,-5.6zM325.2,373.9l5.3,5.6l-5.3,5.6l-5.3,-5.6zM326.8,372.0l5.3,5.6l-5.3,5.6l-5.3,-5.6zM328.5,364.9l5.3,5.6l-5.3,5.6l-5.3,-5.6zM330.2,356.2l5.3,5.6l-5.3,5.6l-5.3,-5.6zM331.8,353.6l5.3,5.6l-5.3,5.6l-5.3,-5.6zM333.5,351.3l5.3,5.6l-5.3,5.6l-5.3,-5.6zM335.1,349.9l5.3,5.6l-5.3,5.6l-5.3,-5.6zM336.8,346.6l5.3,5.6l-5.3,5.6l-5.3,-5.6zM338.5,347.1l5.3,5.6l-5.3,5.6l-5.3,-5.6zM340.1,346.0l5.3,5.6l-5.3,5.6l-5.3,-5.6zM341.8,346.8l5.3,5.6l-5.3,5.6l-5.3,-5.6zM343.4,349.3l5.3,5.6l-5.3,5.6l-5.3,-5.6zM345.1,351.8l5.3,5.6l-5.3,5.6l-5.3,-5.6zM346.8,354.1l5.3,5.6l-5.3,5.6l-5.3,-5.6zM348.4,355.5l5.3,5.6l-5.3,5.6l-5.3,-5.6zM350.1,359.2l5.3,5.6l-5.3,5.6l-5.3,-5.6zM351.7,361.0l5.3,5.6l-5.3,5.6l-5.3,-5.6zM353.4,360.7l5.3,5.6l-5.3,5.6l-5.3,-5.6zM355.1,362.2l5.3,5.6l-5.3,5.6l-5.3,-5.6zM356.7,362.3l5.3,5.6l-5.3,5.6l-5.3,-5.6zM358.4,361.3l5.3,5.6l-5.3,5.6l-5.3,-5.6zM360.0,359.8l5.3,5.6l-5.3,5.6l-5.3,-5.6zM361.7,357.3l5.3,5.6l-5.3,5.6l-5.3,-5.6zM363.4,356.8l5.3,5.6l-5.3,5.6l-5.3,-5.6zM365.0,352.4l5.3,5.6l-5.3,5.6l-5.3,-5.6zM366.7,349.6l5.3,5.6l-5.3,5.6l-5.3,-5.6zM368.3,350.3l5.3,5.6l-5.3,5.6l-5.3,-5.6zM370.0,348.7l5.3,5.6l-5.3,5.6l-5.3,-5.6zM371.7,349.4l5.3,5.6l-5.3,5.6l-5.3,-5.6zM373.3,352.7l5.3,5.6l-5.3,5.6l-5.3,-5.6zM375.0,352.9l5.3,5.6l-5.3,5.6l-5.3,-5.6zM376.6,356.5l5.3,5.6l-5.3,5.6l-5.3,-5.6zM378.3,360.0l5.3,5.6l-5.3,5.6l-5.3,-5.6zM380.0,362.5l5.3,5.6l-5.3,5.6l-5.3,-5.6zM381.6,364.9l5.3,5.6l-5.3,5.6l-5.3,-5.6zM383.3,366.4l5.3,5.6l-5.3,5.6l-5.3,-5.6zM384.9,369.3l5.3,5.6l-5.3,5.6l-5.3,-5.6zM386.6,370.9l5.3,5.6l-5.3,5.6l-5.3,-5.6zM388.3,375.0l5.3,5.6l-5.3,5.6l-5.3,-5.6zM389.9,376.5l5.3,5.6l-5.3,5.6l-5.3,-5.6zM391.6,379.5l5.3,5.6l-5.3,5.6l-5.3,-5.6zM393.2,380.1l5.3,5.6l-5.3,5.6l-5.3,-5.6zM394.9,381.0l5.3,5.6l-5.3,5.6l-5.3,-5.6zM396.6,384.1l5.3,5.6l-5.3,5.6l-5.3,-5.6zM398.2,385.9l5.3,5.6l-5.3,5.6l-5.3,-5.6zM399.9,386.1l5.3,5.6l-5.3,5.6l-5.3,-5.6zM401.5,386.1l5.3,5.6l-5.3,5.6l-5.3,-5.6zM403.2,386.3l5.3,5.6l-5.3,5.6l-5.3,-5.6zM404.9,386.2l5.3,5.6l-5.3,5.6l-5.3,-5.6zM406.5,384.7l5.3,5.6l-5.3,5.6l-5.3,-5.6zM408.2,385.8l5.3,5.6l-5.3,5.6l-5.3,-5.6zM409.8,385.4l5.3,5.6l-5.3,5.6l-5.3,-5.6zM411.5,384.5l5.3,5.6l-5.3,5.6l-5.3,-5.6zM413.2,384.6l5.3,5.6l-5.3,5.6l-5.3,-5.6zM414.8,385.5l5.3,5.6l-5.3,5.6l-5.3,-5.6zM416.5,385.5l5.3,5.6l-5.3,5.6l-5.3,-5.6zM418.1,387.1l5.3,5.6l-5.3,5.6l-5.3,-5.6zM419.8,389.2l5.3,5.6l-5.3,5.6l-5.3,-5.6zM421.5,388.7l5.3,5.6l-5.3,5.6l-5.3,-5.6zM423.1,391.5l5.3,5.6l-5.3,5.6l-5.3,-5.6zM424.8,390.3l5.3,5.6l-5.3,5.6l-5.3,-5.6zM426.4,387.9l5.3,5.6l-5.3,5.6l-5.3,-5.6zM428.1,383.9l5.3,5.6l-5.3,5.6l-5.3,-5.6zM429.8,381.9l5.3,5.6l-5.3,5.6l-5.3,-5.6zM431.4,380.4l5.3,5.6l-5.3,5.6l-5.3,-5.6zM433.1,378.7l5.3,5.6l-5.3,5.6l-5.3,-5.6zM434.7,377.6l5.3,5.6l-5.3,5.6l-5.3,-5.6zM436.4,380.1l5.3,5.6l-5.3,5.6l-5.3,-5.6zM438.1,382.1l5.3,5.6l-5.3,5.6l-5.3,-5.6zM439.7,383.1l5.3,5.6l-5.3,5.6l-5.3,-5.6zM441.4,382.9l5.3,5.6l-5.3,5.6l-5.3,-5.6zM443.0,384.0l5.3,5.6l-5.3,5.6l-5.3,-5.6zM444.7,384.9l5.3,5.6l-5.3,5.6l-5.3,-5.6zM446.4,383.1l5.3,5.6l-5.3,5.6l-5.3,-5.6zM448.0,385.4l5.3,5.6l-5.3,5.6l-5.3,-5.6zM449.7,386.6l5.3,5.6l-5.3,5.6l-5.3,-5.6zM451.3,386.3l5.3,5.6l-5.3,5.6l-5.3,-5.6zM453.0,386.2l5.3,5.6l-5.3,5.6l-5.3,-5.6zM454.7,385.3l5.3,5.6l-5.3,5.6l-5.3,-5.6zM456.3,384.4l5.3,5.6l-5.3,5.6l-5.3,-5.6zM458.0,386.3l5.3,5.6l-5.3,5.6l-5.3,-5.6zM459.6,384.9l5.3,5.6l-5.3,5.6l-5.3,-5.6zM461.3,386.2l5.3,5.6l-5.3,5.6l-5.3,-5.6zM463.0,386.5l5.3,5.6l-5.3,5.6l-5.3,-5.6zM464.6,384.5l5.3,5.6l-5.3,5.6l-5.3,-5.6zM466.3,384.3l5.3,5.6l-5.3,5.6l-5.3,-5.6zM467.9,385.8l5.3,5.6l-5.3,5.6l-5.3,-5.6zM469.6,383.9l5.3,5.6l-5.3,5.6l-5.3,-5.6zM471.3,380.9l5.3,5.6l-5.3,5.6l-5.3,-5.6zM472.9,379.5l5.3,5.6l-5.3,5.6l-5.3,-5.6zM474.6,379.2l5.3,5.6l-5.3,5.6l-5.3,-5.6zM476.2,382.9l5.3,5.6l-5.3,5.6l-5.3,-5.6zM477.9,383.8l5.3,5.6l-5.3,5.6l-5.3,-5.6zM479.6,382.9l5.3,5.6l-5.3,5.6l-5.3,-5.6zM481.2,385.3l5.3,5.6l-5.3,5.6l-5.3,-5.6zM482.9,385.6l5.3,5.6l-5.3,5.6l-5.3,-5.6zM484.5,384.3l5.3,5.6l-5.3,5.6l-5.3,-5.6zM486.2,383.1l5.3,5.6l-5.3,5.6l-5.3,-5.6zM487.9,383.6l5.3,5.6l-5.3,5.6l-5.3,-5.6zM489.5,382.7l5.3,5.6l-5.3,5.6l-5.3,-5.6zM491.2,382.8l5.3,5.6l-5.3,5.6l-5.3,-5.6zM492.8,386.3l5.3,5.6l-5.3,5.6l-5.3,-5.6zM494.5,385.7l5.3,5.6l-5.3,5.6l-5.3,-5.6zM496.2,385.5l5.3,5.6l-5.3,5.6l-5.3,-5.6zM497.8,386.8l5.3,5.6l-5.3,5.6l-5.3,-5.6zM499.5,385.2l5.3,5.6l-5.3,5.6l-5.3,-5.6zM501.1,386.6l5.3,5.6l-5.3,5.6l-5.3,-5.6zM502.8,386.4l5.3,5.6l-5.3,5.6l-5.3,-5.6zM504.5,384.5l5.3,5.6l-5.3,5.6l-5.3,-5.6zM506.1,384.4l5.3,5.6l-5.3,5.6l-5.3,-5.6zM507.8,384.3l5.3,5.6l-5.3,5.6l-5.3,-5.6zM509.4,383.9l5.3,5.6l-5.3,5.6l-5.3,-5.6zM511.1,384.8l5.3,5.6l-5.3,5.6l-5.3,-5.6zM512.8,383.0l5.3,5.6l-5.3,5.6l-5.3,-5.6zM514.4,382.3l5.3,5.6l-5.3,5.6l-5.3,-5.6zM516.1,380.0l5.3,5.6l-5.3,5.6l-5.3,-5.6zM517.7,381.2l5.3,5.6l-5.3,5.6l-5.3,-5.6zM519.4,378.2l5.3,5.6l-5.3,5.6l-5.3,-5.6zM521.1,377.3l5.3,5.6l-5.3,5.6l-5.3,-5.6zM522.7,378.3l5.3,5.6l-5.3,5.6l-5.3,-5.6zM524.4,380.0l5.3,5.6l-5.3,5.6l-5.3,-5.6zM526.0,379.1l5.3,5.6l-5.3,5.6l-5.3,-5.6zM527.7,381.3l5.3,5.6l-5.3,5.6l-5.3,-5.6zM529.4,380.7l5.3,5.6l-5.3,5.6l-5.3,-5.6zM531.0,381.2l5.3,5.6l-5.3,5.6l-5.3,-5.6zM532.7,381.4l5.3,5.6l-5.3,5.6l-5.3,-5.6zM534.3,380.0l5.3,5.6l-5.3,5.6l-5.3,-5.6zM536.0,381.6l5.3,5.6l-5.3,5.6l-5.3,-5.6zM537.7,381.0l5.3,5.6l-5.3,5.6l-5.3,-5.6zM539.3,380.7l5.3,5.6l-5.3,5.6l-5.3,-5.6zM541.0,383.4l5.3,5.6l-5.3,5.6l-5.3,-5.6zM542.6,381.5l5.3,5.6l-5.3,5.6l-5.3,-5.6zM544.3,382.5l5.3,5.6l-5.3,5.6l-5.3,-5.6zM546.0,383.4l5.3,5.6l-5.3,5.6l-5.3,-5.6zM547.6,383.0l5.3,5.6l-5.3,5.6l-5.3,-5.6zM549.3,382.3l5.3,5.6l-5.3,5.6l-5.3,-5.6zM550.9,383.0l5.3,5.6l-5.3,5.6l-5.3,-5.6zM552.6,383.1l5.3,5.6l-5.3,5.6l-5.3,-5.6zM554.3,383.8l5.3,5.6l-5.3,5.6l-5.3,-5.6zM555.9,381.6l5.3,5.6l-5.3,5.6l-5.3,-5.6zM557.6,382.3l5.3,5.6l-5.3,5.6l-5.3,-5.6zM559.2,380.5l5.3,5.6l-5.3,5.6l-5.3,-5.6zM560.9,379.7l5.3,5.6l-5.3,5.6l-5.3,-5.6zM562.6,380.5l5.3,5.6l-5.3,5.6l-5.3,-5.6zM564.2,379.1l5.3,5.6l-5.3,5.6l-5.3,-5.6zM565.9,380.6l5.3,5.6l-5.3,5.6l-5.3,-5.6zM567.5,382.6l5.3,5.6l-5.3,5.6l-5.3,-5.6zM569.2,384.4l5.3,5.6l-5.3,5.6l-5.3,-5.6zM570.9,384.3l5.3,5.6l-5.3,5.6l-5.3,-5.6zM572.5,385.2l5.3,5.6l-5.3,5.6l-5.3,-5.6zM574.2,383.2l5.3,5.6l-5.3,5.6l-5.3,-5.6zM575.8,381.6l5.3,5.6l-5.3,5.6l-5.3,-5.6zM577.5,380.5l5.3,5.6l-5.3,5.6l-5.3,-5.6zM579.2,378.2l5.3,5.6l-5.3,5.6l-5.3,-5.6zM580.8,377.5l5.3,5.6l-5.3,5.6l-5.3,-5.6zM582.5,376.3l5.3,5.6l-5.3,5.6l-5.3,-5.6zM584.1,376.9l5.3,5.6l-5.3,5.6l-5.3,-5.6zM585.8,375.2l5.3,5.6l-5.3,5.6l-5.3,-5.6zM587.5,376.8l5.3,5.6l-5.3,5.6l-5.3,-5.6zM589.1,378.3l5.3,5.6l-5.3,5.6l-5.3,-5.6zM590.8,377.5l5.3,5.6l-5.3,5.6l-5.3,-5.6zM592.4,379.8l5.3,5.6l-5.3,5.6l-5.3,-5.6zM594.1,382.4l5.3,5.6l-5.3,5.6l-5.3,-5.6zM595.8,383.0l5.3,5.6l-5.3,5.6l-5.3,-5.6zM597.4,381.7l5.3,5.6l-5.3,5.6l-5.3,-5.6zM599.1,382.5l5.3,5.6l-5.3,5.6l-5.3,-5.6zM600.7,384.5l5.3,5.6l-5.3,5.6l-5.3,-5.6zM602.4,383.6l5.3,5.6l-5.3,5.6l-5.3,-5.6zM604.1,382.1l5.3,5.6l-5.3,5.6l-5.3,-5.6zM605.7,379.6l5.3,5.6l-5.3,5.6l-5.3,-5.6zM607.4,379.6l5.3,5.6l-5.3,5.6l-5.3,-5.6zM609.0,378.0l5.3,5.6l-5.3,5.6l-5.3,-5.6zM610.7,376.4l5.3,5.6l-5.3,5.6l-5.3,-5.6zM612.4,372.9l5.3,5.6l-5.3,5.6l-5.3,-5.6zM614.0,373.5l5.3,5.6l-5.3,5.6l-5.3,-5.6zM615.7,372.1l5.3,5.6l-5.3,5.6l-5.3,-5.6zM617.3,369.3l5.3,5.6l-5.3,5.6l-5.3,-5.6zM619.0,370.5l5.3,5.6l-5.3,5.6l-5.3,-5.6zM620.7,367.0l5.3,5.6l-5.3,5.6l-5.3,-5.6zM622.3,360.7l5.3,5.6l-5.3,5.6l-5.3,-5.6zM624.0,352.2l5.3,5.6l-5.3,5.6l-5.3,-5.6zM625.6,345.4l5.3,5.6l-5.3,5.6l-5.3,-5.6zM627.3,340.7l5.3,5.6l-5.3,5.6l-5.3,-5.6zM629.0,340.7l5.3,5.6l-5.3,5.6l-5.3,-5.6zM630.6,339.1l5.3,5.6l-5.3,5.6l-5.3,-5.6zM632.3,335.9l5.3,5.6l-5.3,5.6l-5.3,-5.6zM633.9,335.6l5.3,5.6l-5.3,5.6l-5.3,-5.6zM635.6,335.2l5.3,5.6l-5.3,5.6l-5.3,-5.6zM637.3,334.5l5.3,5.6l-5.3,5.6l-5.3,-5.6zM638.9,335.0l5.3,5.6l-5.3,5.6l-5.3,-5.6zM640.6,336.9l5.3,5.6l-5.3,5.6l-5.3,-5.6zM642.2,339.8l5.3,5.6l-5.3,5.6l-5.3,-5.6zM643.9,341.0l5.3,5.6l-5.3,5.6l-5.3,-5.6zM645.6,349.4l5.3,5.6l-5.3,5.6l-5.3,-5.6zM647.2,353.7l5.3,5.6l-5.3,5.6l-5.3,-5.6zM648.9,356.8l5.3,5.6l-5.3,5.6l-5.3,-5.6zM650.5,360.0l5.3,5.6l-5.3,5.6l-5.3,-5.6zM652.2,362.4l5.3,5.6l-5.3,5.6l-5.3,-5.6zM653.9,363.5l5.3,5.6l-5.3,5.6l-5.3,-5.6zM655.5,363.4l5.3,5.6l-5.3,5.6l-5.3,-5.6zM657.2,367.8l5.3,5.6l-5.3,5.6l-5.3,-5.6zM658.8,368.9l5.3,5.6l-5.3,5.6l-5.3,-5.6zM660.5,371.4l5.3,5.6l-5.3,5.6l-5.3,-5.6zM662.2,370.6l5.3,5.6l-5.3,5.6l-5.3,-5.6zM663.8,373.0l5.3,5.6l-5.3,5.6l-5.3,-5.6zM665.5,374.2l5.3,5.6l-5.3,5.6l-5.3,-5.6zM667.1,378.6l5.3,5.6l-5.3,5.6l-5.3,-5.6zM668.8,379.0l5.3,5.6l-5.3,5.6l-5.3,-5.6zM670.5,380.5l5.3,5.6l-5.3,5.6l-5.3,-5.6zM672.1,382.4l5.3,5.6l-5.3,5.6l-5.3,-5.6zM673.8,384.1l5.3,5.6l-5.3,5.6l-5.3,-5.6zM675.4,384.0l5.3,5.6l-5.3,5.6l-5.3,-5.6zM677.1,382.4l5.3,5.6l-5.3,5.6l-5.3,-5.6zM678.8,382.2l5.3,5.6l-5.3,5.6l-5.3,-5.6zM680.4,384.7l5.3,5.6l-5.3,5.6l-5.3,-5.6zM682.1,383.5l5.3,5.6l-5.3,5.6l-5.3,-5.6zM683.7,383.8l5.3,5.6l-5.3,5.6l-5.3,-5.6zM685.4,381.8l5.3,5.6l-5.3,5.6l-5.3,-5.6zM687.1,381.6l5.3,5.6l-5.3,5.6l-5.3,-5.6zM688.7,383.5l5.3,5.6l-5.3,5.6l-5.3,-5.6zM690.4,382.3l5.3,5.6l-5.3,5.6l-5.3,-5.6zM692.0,380.6l5.3,5.6l-5.3,5.6l-5.3,-5.6zM693.7,382.8l5.3,5.6l-5.3,5.6l-5.3,-5.6zM695.4,381.3l5.3,5.6l-5.3,5.6l-5.3,-5.6zM697.0,382.2l5.3,5.6l-5.3,5.6l-5.3,-5.6zM698.7,380.1l5.3,5.6l-5.3,5.6l-5.3,-5.6zM700.3,382.9l5.3,5.6l-5.3,5.6l-5.3,-5.6zM702.0,380.6l5.3,5.6l-5.3,5.6l-5.3,-5.6zM703.7,383.5l5.3,5.6l-5.3,5.6l-5.3,-5.6zM705.3,382.4l5.3,5.6l-5.3,5.6l-5.3,-5.6zM707.0,382.3l5.3,5.6l-5.3,5.6l-5.3,-5.6zM708.6,383.0l5.3,5.6l-5.3,5.6l-5.3,-5.6zM710.3,384.1l5.3,5.6l-5.3,5.6l-5.3,-5.6zM712.0,382.0l5.3,5.6l-5.3,5.6l-5.3,-5.6zM713.6,381.4l5.3,5.6l-5.3,5.6l-5.3,-5.6zM715.3,382.6l5.3,5.6l-5.3,5.6l-5.3,-5.6zM716.9,381.7l5.3,5.6l-5.3,5.6l-5.3,-5.6zM718.6,381.2l5.3,5.6l-5.3,5.6l-5.3,-5.6zM720.3,381.4l5.3,5.6l-5.3,5.6l-5.3,-5.6zM721.9,381.2l5.3,5.6l-5.3,5.6l-5.3,-5.6zM723.6,381.8l5.3,5.6l-5.3,5.6l-5.3,-5.6zM725.2,382.2l5.3,5.6l-5.3,5.6l-5.3,-5.6zM726.9,382.4l5.3,5.6l-5.3,5.6l-5.3,-5.6zM728.6,383.9l5.3,5.6l-5.3,5.6l-5.3,-5.6zM730.2,382.6l5.3,5.6l-5.3,5.6l-5.3,-5.6zM731.9,383.3l5.3,5.6l-5.3,5.6l-5.3,-5.6zM733.5,379.3l5.3,5.6l-5.3,5.6l-5.3,-5.6zM735.2,374.5l5.3,5.6l-5.3,5.6l-5.3,-5.6zM736.9,368.0l5.3,5.6l-5.3,5.6l-5.3,-5.6zM738.5,365.9l5.3,5.6l-5.3,5.6l-5.3,-5.6zM740.2,362.5l5.3,5.6l-5.3,5.6l-5.3,-5.6zM741.8,362.2l5.3,5.6l-5.3,5.6l-5.3,-5.6zM743.5,359.0l5.3,5.6l-5.3,5.6l-5.3,-5.6zM745.2,355.8l5.3,5.6l-5.3,5.6l-5.3,-5.6zM746.8,355.6l5.3,5.6l-5.3,5.6l-5.3,-5.6zM748.5,355.9l5.3,5.6l-5.3,5.6l-5.3,-5.6zM750.1,352.2l5.3,5.6l-5.3,5.6l-5.3,-5.6zM751.8,354.6l5.3,5.6l-5.3,5.6l-5.3,-5.6zM753.5,355.8l5.3,5.6l-5.3,5.6l-5.3,-5.6zM755.1,358.4l5.3,5.6l-5.3,5.6l-5.3,-5.6zM756.8,361.9l5.3,5.6l-5.3,5.6l-5.3,-5.6zM758.4,362.9l5.3,5.6l-5.3,5.6l-5.3,-5.6zM760.1,365.9l5.3,5.6l-5.3,5.6l-5.3,-5.6zM761.8,369.5l5.3,5.6l-5.3,5.6l-5.3,-5.6zM763.4,373.4l5.3,5.6l-5.3,5.6l-5.3,-5.6zM765.1,374.4l5.3,5.6l-5.3,5.6l-5.3,-5.6zM766.7,379.0l5.3,5.6l-5.3,5.6l-5.3,-5.6zM768.4,381.9l5.3,5.6l-5.3,5.6l-5.3,-5.6zM770.1,385.0l5.3,5.6l-5.3,5.6l-5.3,-5.6zM771.7,385.8l5.3,5.6l-5.3,5.6l-5.3,-5.6zM773.4,381.9l5.3,5.6l-5.3,5.6l-5.3,-5.6zM775.0,377.2l5.3,5.6l-5.3,5.6l-5.3,-5.6zM776.7,373.8l5.3,5.6l-5.3,5.6l-5.3,-5.6zM778.4,370.4l5.3,5.6l-5.3,5.6l-5.3,-5.6zM780.0,369.7l5.3,5.6l-5.3,5.6l-5.3,-5.6zM781.7,365.2l5.3,5.6l-5.3,5.6l-5.3,-5.6zM783.3,364.8l5.3,5.6l-5.3,5.6l-5.3,-5.6zM785.0,367.2l5.3,5.6l-5.3,5.6l-5.3,-5.6zM786.7,372.2l5.3,5.6l-5.3,5.6l-5.3,-5.6zM788.3,374.9l5.3,5.6l-5.3,5.6l-5.3,-5.6zM790.0,377.1l5.3,5.6l-5.3,5.6l-5.3,-5.6zM791.6,378.9l5.3,5.6l-5.3,5.6l-5.3,-5.6zM793.3,381.9l5.3,5.6l-5.3,5.6l-5.3,-5.6zM795.0,385.1l5.3,5.6l-5.3,5.6l-5.3,-5.6zM796.6,385.8l5.3,5.6l-5.3,5.6l-5.3,-5.6zM798.3,383.2l5.3,5.6l-5.3,5.6l-5.3,-5.6zM799.9,382.4l5.3,5.6l-5.3,5.6l-5.3,-5.6zM801.6,380.2l5.3,5.6l-5.3,5.6l-5.3,-5.6zM803.3,380.8l5.3,5.6l-5.3,5.6l-5.3,-5.6zM804.9,379.2l5.3,5.6l-5.3,5.6l-5.3,-5.6zM806.6,376.2l5.3,5.6l-5.3,5.6l-5.3,-5.6zM808.2,373.7l5.3,5.6l-5.3,5.6l-5.3,-5.6zM809.9,374.4l5.3,5.6l-5.3,5.6l-5.3,-5.6zM811.6,370.7l5.3,5.6l-5.3,5.6l-5.3,-5.6zM813.2,369.2l5.3,5.6l-5.3,5.6l-5.3,-5.6zM814.9,367.3l5.3,5.6l-5.3,5.6l-5.3,-5.6zM816.5,367.9l5.3,5.6l-5.3,5.6l-5.3,-5.6zM818.2,367.6l5.3,5.6l-5.3,5.6l-5.3,-5.6zM819.9,367.0l5.3,5.6l-5.3,5.6l-5.3,-5.6zM821.5,367.2l5.3,5.6l-5.3,5.6l-5.3,-5.6zM823.2,369.8l5.3,5.6l-5.3,5.6l-5.3,-5.6zM824.8,369.8l5.3,5.6l-5.3,5.6l-5.3,-5.6zM826.5,372.2l5.3,5.6l-5.3,5.6l-5.3,-5.6zM828.2,373.3l5.3,5.6l-5.3,5.6l-5.3,-5.6zM829.8,376.7l5.3,5.6l-5.3,5.6l-5.3,-5.6zM831.5,377.9l5.3,5.6l-5.3,5.6l-5.3,-5.6zM833.1,380.2l5.3,5.6l-5.3,5.6l-5.3,-5.6zM834.8,380.7l5.3,5.6l-5.3,5.6l-5.3,-5.6zM836.5,379.0l5.3,5.6l-5.3,5.6l-5.3,-5.6zM838.1,378.7l5.3,5.6l-5.3,5.6l-5.3,-5.6zM839.8,377.1l5.3,5.6l-5.3,5.6l-5.3,-5.6zM841.4,376.3l5.3,5.6l-5.3,5.6l-5.3,-5.6zM843.1,374.3l5.3,5.6l-5.3,5.6l-5.3,-5.6zM844.8,372.0l5.3,5.6l-5.3,5.6l-5.3,-5.6zM846.4,370.0l5.3,5.6l-5.3,5.6l-5.3,-5.6zM848.1,365.9l5.3,5.6l-5.3,5.6l-5.3,-5.6zM849.7,363.2l5.3,5.6l-5.3,5.6l-5.3,-5.6zM851.4,362.9l5.3,5.6l-5.3,5.6l-5.3,-5.6zM853.1,357.8l5.3,5.6l-5.3,5.6l-5.3,-5.6zM854.7,357.2l5.3,5.6l-5.3,5.6l-5.3,-5.6zM856.4,354.6l5.3,5.6l-5.3,5.6l-5.3,-5.6zM858.0,350.5l5.3,5.6l-5.3,5.6l-5.3,-5.6zM859.7,351.2l5.3,5.6l-5.3,5.6l-5.3,-5.6zM861.4,349.6l5.3,5.6l-5.3,5.6l-5.3,-5.6zM863.0,346.9l5.3,5.6l-5.3,5.6l-5.3,-5.6zM864.7,345.7l5.3,5.6l-5.3,5.6l-5.3,-5.6zM866.3,344.9l5.3,5.6l-5.3,5.6l-5.3,-5.6zM868.0,341.7l5.3,5.6l-5.3,5.6l-5.3,-5.6zM869.7,341.9l5.3,5.6l-5.3,5.6l-5.3,-5.6zM871.3,341.0l5.3,5.6l-5.3,5.6l-5.3,-5.6zM873.0,343.0l5.3,5.6l-5.3,5.6l-5.3,-5.6zM874.6,343.8l5.3,5.6l-5.3,5.6l-5.3,-5.6zM876.3,344.8l5.3,5.6l-5.3,5.6l-5.3,-5.6zM878.0,345.0l5.3,5.6l-5.3,5.6l-5.3,-5.6zM879.6,346.9l5.3,5.6l-5.3,5.6l-5.3,-5.6zM881.3,347.2l5.3,5.6l-5.3,5.6l-5.3,-5.6zM882.9,350.6l5.3,5.6l-5.3,5.6l-5.3,-5.6zM884.6,352.8l5.3,5.6l-5.3,5.6l-5.3,-5.6zM886.3,355.9l5.3,5.6l-5.3,5.6l-5.3,-5.6zM887.9,360.2l5.3,5.6l-5.3,5.6l-5.3,-5.6zM889.6,365.4l5.3,5.6l-5.3,5.6l-5.3,-5.6zM891.2,369.1l5.3,5.6l-5.3,5.6l-5.3,-5.6zM892.9,374.9l5.3,5.6l-5.3,5.6l-5.3,-5.6zM894.6,376.9l5.3,5.6l-5.3,5.6l-5.3,-5.6zM896.2,380.0l5.3,5.6l-5.3,5.6l-5.3,-5.6zM897.9,382.9l5.3,5.6l-5.3,5.6l-5.3,-5.6zM899.5,383.8l5.3,5.6l-5.3,5.6l-5.3,-5.6zM901.2,383.9l5.3,5.6l-5.3,5.6l-5.3,-5.6zM902.9,383.1l5.3,5.6l-5.3,5.6l-5.3,-5.6zM904.5,386.3l5.3,5.6l-5.3,5.6l-5.3,-5.6zM906.2,386.9l5.3,5.6l-5.3,5.6l-5.3,-5.6zM907.8,386.8l5.3,5.6l-5.3,5.6l-5.3,-5.6zM909.5,386.7l5.3,5.6l-5.3,5.6l-5.3,-5.6zM911.2,386.6l5.3,5.6l-5.3,5.6l-5.3,-5.6zM912.8,384.1l5.3,5.6l-5.3,5.6l-5.3,-5.6zM914.5,385.7l5.3,5.6l-5.3,5.6l-5.3,-5.6zM916.1,383.6l5.3,5.6l-5.3,5.6l-5.3,-5.6zM917.8,382.0l5.3,5.6l-5.3,5.6l-5.3,-5.6zM919.5,380.6l5.3,5.6l-5.3,5.6l-5.3,-5.6zM921.1,380.1l5.3,5.6l-5.3,5.6l-5.3,-5.6zM922.8,376.4l5.3,5.6l-5.3,5.6l-5.3,-5.6zM924.4,376.1l5.3,5.6l-5.3,5.6l-5.3,-5.6zM926.1,375.4l5.3,5.6l-5.3,5.6l-5.3,-5.6zM927.8,372.6l5.3,5.6l-5.3,5.6l-5.3,-5.6zM929.4,370.9l5.3,5.6l-5.3,5.6l-5.3,-5.6zM931.1,370.9l5.3,5.6l-5.3,5.6l-5.3,-5.6zM932.7,373.3l5.3,5.6l-5.3,5.6l-5.3,-5.6zM934.4,375.2l5.3,5.6l-5.3,5.6l-5.3,-5.6zM936.1,376.4l5.3,5.6l-5.3,5.6l-5.3,-5.6zM937.7,378.2l5.3,5.6l-5.3,5.6l-5.3,-5.6zM939.4,378.4l5.3,5.6l-5.3,5.6l-5.3,-5.6zM941.0,380.6l5.3,5.6l-5.3,5.6l-5.3,-5.6zM942.7,383.0l5.3,5.6l-5.3,5.6l-5.3,-5.6zM944.4,386.6l5.3,5.6l-5.3,5.6l-5.3,-5.6zM945.3,386.4l5.3,5.6l-5.3,5.6l-5.3,-5.6z" fill="#000"/>
<text transform="translate(112.5,430.6) scale(1,1.05)" x="0" y="0" font-size="30" text-anchor="middle" fill="#222" font-family="Liberation Sans, sans-serif">0</text>
<text transform="translate(222.1,430.6) scale(1,1.05)" x="0" y="0" font-size="30" text-anchor="middle" fill="#222" font-family="Liberation Sans, sans-serif">2</text>
<text transform="translate(331.8,430.6) scale(1,1.05)" x="0" y="0" font-size="30" text-anchor="middle" fill="#222" font-family="Liberation Sans, sans-serif">4</text>
<text transform="translate(443.7,430.6) scale(1,1.05)" x="0" y="0" font-size="30" text-anchor="middle" fill="#222" font-family="Liberation Sans, sans-serif">6</text>
<text transform="translate(556.0,430.6) scale(1,1.05)" x="0" y="0" font-size="30" text-anchor="middle" fill="#222" font-family="Liberation Sans, sans-serif">8</text>
<text transform="translate(672.3,430.6) scale(1,1.05)" x="0" y="0" font-size="30" text-anchor="middle" fill="#222" font-family="Liberation Sans, sans-serif">0</text>
<text transform="translate(784.15,430.6) scale(1,1.05)" x="0" y="0" font-size="30" text-anchor="middle" fill="#222" font-family="Liberation Sans, sans-serif">2</text>
<text transform="translate(894.0,430.6) scale(1,1.05)" x="0" y="0" font-size="30" text-anchor="middle" fill="#222" font-family="Liberation Sans, sans-serif">4</text>
<text transform="translate(1006.1,430.6) scale(1,1.05)" x="0" y="0" font-size="30" text-anchor="middle" fill="#222" font-family="Liberation Sans, sans-serif">6</text>
<text transform="translate(102,406.70000000000005) scale(1,1.05)" x="0" y="0" font-size="30" text-anchor="end" fill="#222" font-family="Liberation Sans, sans-serif">0</text>
<text transform="translate(102,156.25) scale(1,1.05)" x="0" y="0" font-size="30" text-anchor="end" fill="#222" font-family="Liberation Sans, sans-serif">2</text>
<text transform="translate(102,33.2) scale(1,1.05)" x="0" y="0" font-size="30" text-anchor="end" fill="#222" font-family="Liberation Sans, sans-serif">3</text>
<path d="M652.1,417.2L658.3,410.6V431.0M763.9,417.2L770.1,410.6V431.0M873.8,417.2L880.0,410.6V431.0M985.9,417.2L992.1,410.6V431.0M89.6,268.0L95.8,261.4V281.8" stroke="#222" stroke-width="2.3" fill="none" stroke-linejoin="round"/>
<text transform="translate(447,468) scale(1,1.05)" x="0" y="0" font-size="30" textLength="188" lengthAdjust="spacingAndGlyphs" fill="#222" font-family="Liberation Sans, sans-serif">Distance [mm]</text>
<text transform="translate(65,276) rotate(-90) scale(1,1.05)" x="0" y="0" font-size="30" textLength="124" lengthAdjust="spacingAndGlyphs" fill="#222" font-family="Liberation Sans, sans-serif">Voids [%]</text>
<rect x="640.2" y="38.9" width="349.6" height="91.6" fill="#fff" stroke="#262626" stroke-width="2.5"/>
<line x1="657.3" y1="62.1" x2="746.8" y2="62.1" stroke="#808080" stroke-width="3.3"/>
<path d="M702,57.2L705.3,62.5L702,68.3L698.7,62.5Z" fill="#808080"/>
<line x1="656.5" y1="103.8" x2="748" y2="103.8" stroke="#000" stroke-width="3.5" stroke-dasharray="2.5 8.55" stroke-dashoffset="0"/>
<path d="M702,98.3L707.5,103.8L702,109.3L696.5,103.8Z" fill="#000"/>
<text transform="translate(756,75.2) scale(1,1.05)" x="0" y="0" font-size="30" textLength="210.5" lengthAdjust="spacingAndGlyphs" fill="#222" font-family="Liberation Sans, sans-serif">w/c=0.3, DS, S3</text>
<text transform="translate(756,116.2) scale(1,1.05)" x="0" y="0" font-size="30" textLength="219.5" lengthAdjust="spacingAndGlyphs" fill="#222" font-family="Liberation Sans, sans-serif">w/c=0.3, WS, S3</text>
<line x1="175.9" y1="25" x2="175.9" y2="537" stroke="#fff" stroke-width="5.8"/>
<line x1="175.9" y1="25" x2="175.9" y2="537" stroke="#e0e0e0" stroke-width="5.4"/>
<line x1="175.8" y1="25" x2="175.8" y2="537" stroke="#c2c2c2" stroke-width="2.6"/>
<line x1="167" y1="516" x2="120" y2="516" stroke="#111" stroke-width="2.2"/>
<path d="M103.5,516L133.5,503.4L135.4,505.8L125,512.3L125,519.7L135.4,526.2L133.5,528.6Z" fill="#000"/>
<line x1="182.6" y1="516" x2="612" y2="516" stroke="#111" stroke-width="2.2"/>
<path d="M630.3,518L600.5,504.2L598.7,506.6L608.6,512.6L608.6,519.6L598.7,525.6L600.5,527.9Z" fill="#000"/>
<text transform="translate(9.5,492.5) scale(1,1.05)" x="0" y="0" font-size="30" textLength="121" lengthAdjust="spacingAndGlyphs" fill="#222" font-family="Liberation Sans, sans-serif">Substrate</text>
<text transform="translate(202.5,490.5) scale(1,1.05)" x="0" y="0" font-size="30" textLength="191" lengthAdjust="spacingAndGlyphs" fill="#222" font-family="Liberation Sans, sans-serif">Repair material</text>
</svg>
</body></html>
